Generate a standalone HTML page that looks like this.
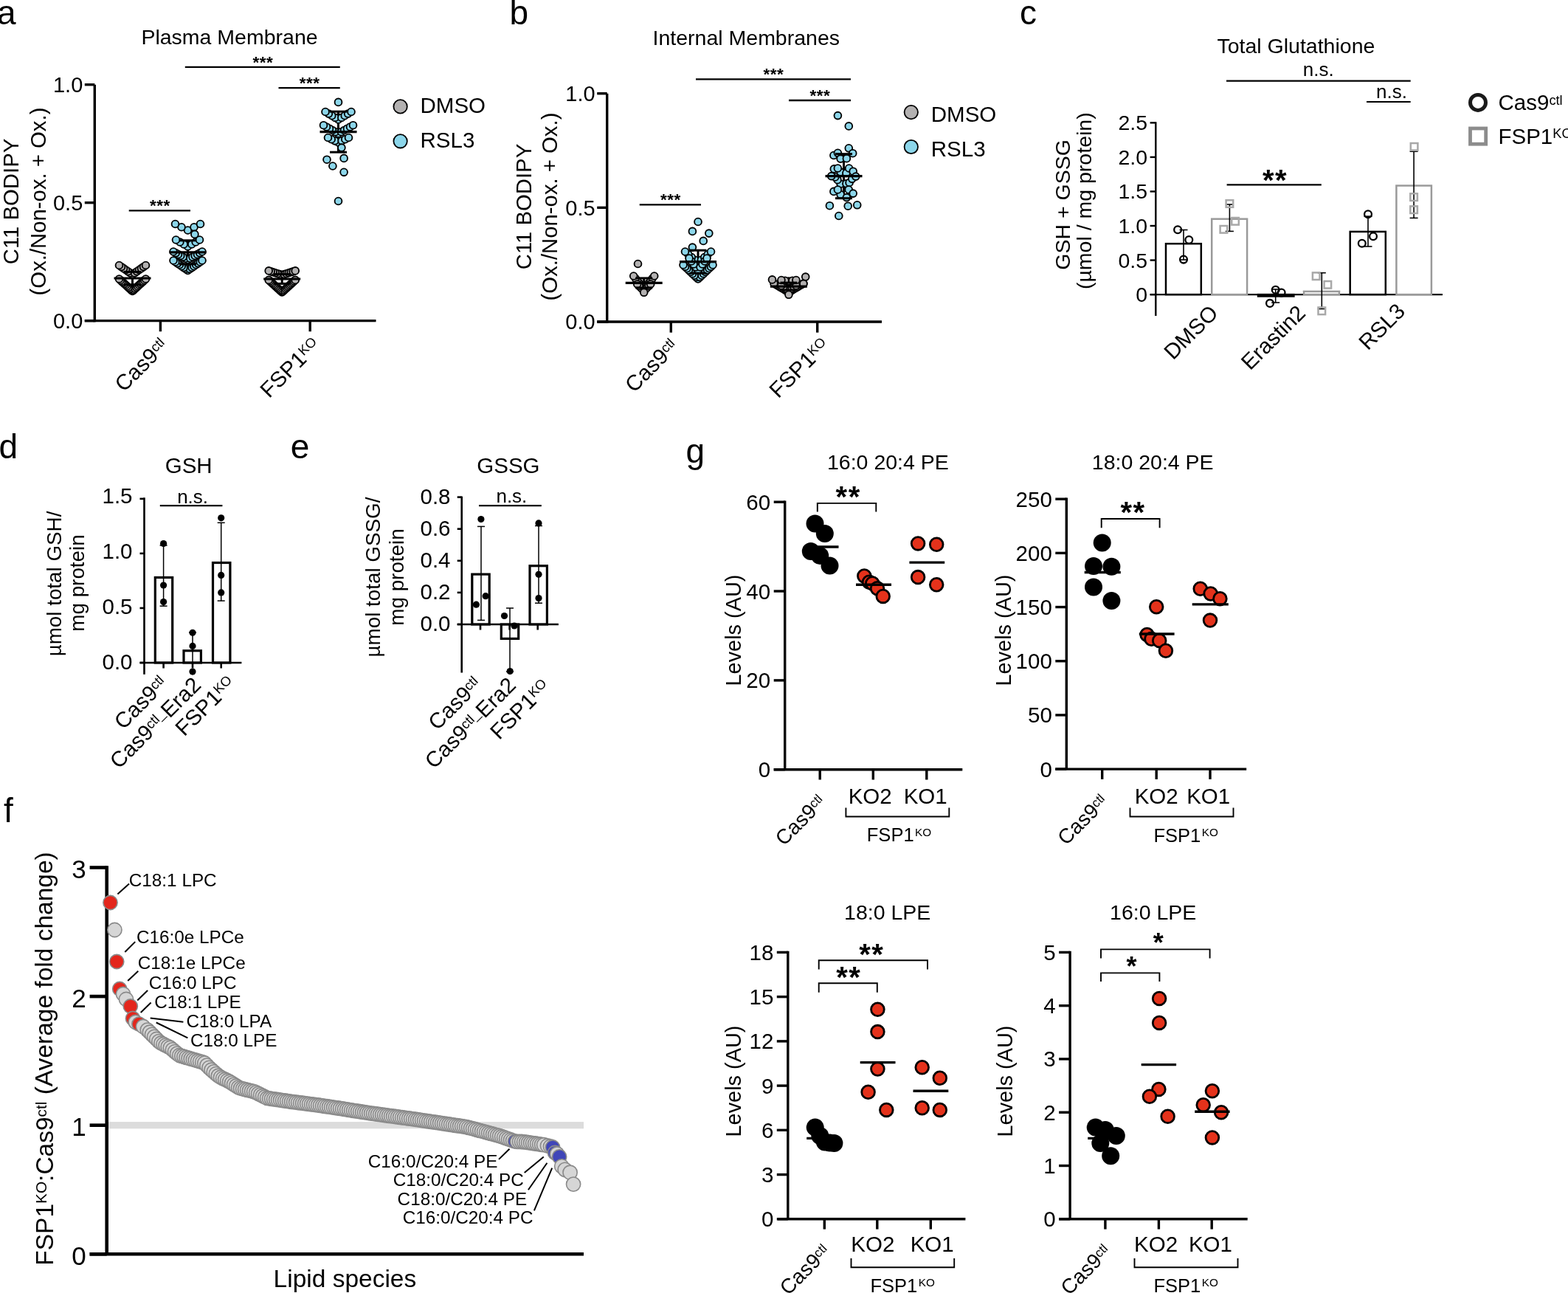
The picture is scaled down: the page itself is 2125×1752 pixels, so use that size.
<!DOCTYPE html>
<html><head><meta charset="utf-8"><title>Figure</title>
<style>html,body{margin:0;padding:0;background:#fff;} svg{display:block;} text{font-family:'Liberation Sans', Arial, Helvetica, sans-serif;}</style></head>
<body><svg width="2125" height="1752" viewBox="0 0 2125 1752">
<rect width="2125" height="1752" fill="#fff"/>
<text x="-4" y="32.8" font-size="46" text-anchor="start" fill="#000">a</text>
<line x1="128.3" y1="114.7" x2="128.3" y2="436.3" stroke="#000" stroke-width="3.4" stroke-linecap="butt"/>
<line x1="114.8" y1="434.6" x2="509.5" y2="434.6" stroke="#000" stroke-width="3.4" stroke-linecap="butt"/>
<line x1="114.8" y1="434.6" x2="128.3" y2="434.6" stroke="#000" stroke-width="3.4" stroke-linecap="butt"/>
<text x="112.3" y="444.8" font-size="29" text-anchor="end" fill="#000">0.0</text>
<line x1="114.8" y1="274.65" x2="128.3" y2="274.65" stroke="#000" stroke-width="3.4" stroke-linecap="butt"/>
<text x="112.3" y="284.85" font-size="29" text-anchor="end" fill="#000">0.5</text>
<line x1="114.8" y1="114.7" x2="128.3" y2="114.7" stroke="#000" stroke-width="3.4" stroke-linecap="butt"/>
<text x="112.3" y="124.9" font-size="29" text-anchor="end" fill="#000">1.0</text>
<line x1="217.4" y1="434.6" x2="217.4" y2="449.2" stroke="#000" stroke-width="3.4" stroke-linecap="butt"/>
<line x1="420.2" y1="434.6" x2="420.2" y2="449.2" stroke="#000" stroke-width="3.4" stroke-linecap="butt"/>
<text font-size="29.5" text-anchor="end" transform="translate(229.4 470.6) rotate(-45)">Cas9<tspan font-size="62%" dy="-0.42em">ctl</tspan></text>
<text font-size="29.5" text-anchor="end" transform="translate(435.7 469.6) rotate(-45)">FSP1<tspan font-size="62%" dy="-0.42em">KO</tspan></text>
<text x="25" y="273" font-size="29.3" text-anchor="middle" fill="#000" transform="rotate(-90 25 273)">C11 BODIPY</text>
<text x="61.7" y="273" font-size="29.3" text-anchor="middle" fill="#000" transform="rotate(-90 61.7 273)">(Ox./Non-ox. + Ox.)</text>
<text x="311" y="60" font-size="28.5" text-anchor="middle" fill="#000">Plasma Membrane</text>
<line x1="179.5" y1="385.66" x2="179.5" y2="368.38" stroke="#000" stroke-width="3" stroke-linecap="butt"/>
<circle cx="179.5" cy="372" r="4.9" fill="#b3b1b1" stroke="#000" stroke-width="1.85"/>
<circle cx="176.5" cy="369.92" r="4.9" fill="#b3b1b1" stroke="#000" stroke-width="1.85"/>
<circle cx="182.5" cy="369.92" r="4.9" fill="#b3b1b1" stroke="#000" stroke-width="1.85"/>
<circle cx="173.5" cy="367.83" r="4.9" fill="#b3b1b1" stroke="#000" stroke-width="1.85"/>
<circle cx="185.5" cy="367.83" r="4.9" fill="#b3b1b1" stroke="#000" stroke-width="1.85"/>
<circle cx="170.5" cy="365.75" r="4.9" fill="#b3b1b1" stroke="#000" stroke-width="1.85"/>
<circle cx="188.5" cy="365.75" r="4.9" fill="#b3b1b1" stroke="#000" stroke-width="1.85"/>
<circle cx="167.5" cy="363.67" r="4.9" fill="#b3b1b1" stroke="#000" stroke-width="1.85"/>
<circle cx="191.5" cy="363.67" r="4.9" fill="#b3b1b1" stroke="#000" stroke-width="1.85"/>
<circle cx="164.5" cy="361.58" r="4.9" fill="#b3b1b1" stroke="#000" stroke-width="1.85"/>
<circle cx="194.5" cy="361.58" r="4.9" fill="#b3b1b1" stroke="#000" stroke-width="1.85"/>
<circle cx="161.5" cy="359.5" r="4.9" fill="#b3b1b1" stroke="#000" stroke-width="1.85"/>
<circle cx="197.5" cy="359.5" r="4.9" fill="#b3b1b1" stroke="#000" stroke-width="1.85"/>
<circle cx="179.5" cy="394.5" r="4.9" fill="#b3b1b1" stroke="#000" stroke-width="1.85"/>
<circle cx="177.7" cy="392.85" r="4.9" fill="#b3b1b1" stroke="#000" stroke-width="1.85"/>
<circle cx="181.3" cy="392.85" r="4.9" fill="#b3b1b1" stroke="#000" stroke-width="1.85"/>
<circle cx="175.9" cy="391.2" r="4.9" fill="#b3b1b1" stroke="#000" stroke-width="1.85"/>
<circle cx="183.1" cy="391.2" r="4.9" fill="#b3b1b1" stroke="#000" stroke-width="1.85"/>
<circle cx="174.1" cy="389.55" r="4.9" fill="#b3b1b1" stroke="#000" stroke-width="1.85"/>
<circle cx="184.9" cy="389.55" r="4.9" fill="#b3b1b1" stroke="#000" stroke-width="1.85"/>
<circle cx="172.3" cy="387.9" r="4.9" fill="#b3b1b1" stroke="#000" stroke-width="1.85"/>
<circle cx="186.7" cy="387.9" r="4.9" fill="#b3b1b1" stroke="#000" stroke-width="1.85"/>
<circle cx="170.5" cy="386.25" r="4.9" fill="#b3b1b1" stroke="#000" stroke-width="1.85"/>
<circle cx="188.5" cy="386.25" r="4.9" fill="#b3b1b1" stroke="#000" stroke-width="1.85"/>
<circle cx="168.7" cy="384.6" r="4.9" fill="#b3b1b1" stroke="#000" stroke-width="1.85"/>
<circle cx="190.3" cy="384.6" r="4.9" fill="#b3b1b1" stroke="#000" stroke-width="1.85"/>
<circle cx="166.9" cy="382.95" r="4.9" fill="#b3b1b1" stroke="#000" stroke-width="1.85"/>
<circle cx="192.1" cy="382.95" r="4.9" fill="#b3b1b1" stroke="#000" stroke-width="1.85"/>
<circle cx="165.1" cy="381.3" r="4.9" fill="#b3b1b1" stroke="#000" stroke-width="1.85"/>
<circle cx="193.9" cy="381.3" r="4.9" fill="#b3b1b1" stroke="#000" stroke-width="1.85"/>
<circle cx="163.3" cy="379.65" r="4.9" fill="#b3b1b1" stroke="#000" stroke-width="1.85"/>
<circle cx="195.7" cy="379.65" r="4.9" fill="#b3b1b1" stroke="#000" stroke-width="1.85"/>
<circle cx="161.5" cy="378" r="4.9" fill="#b3b1b1" stroke="#000" stroke-width="1.85"/>
<circle cx="197.5" cy="378" r="4.9" fill="#b3b1b1" stroke="#000" stroke-width="1.85"/>
<line x1="154.5" y1="377.02" x2="204.5" y2="377.02" stroke="#000" stroke-width="3.2" stroke-linecap="butt"/>
<line x1="168" y1="368.38" x2="191" y2="368.38" stroke="#000" stroke-width="3" stroke-linecap="butt"/>
<line x1="168" y1="385.66" x2="191" y2="385.66" stroke="#000" stroke-width="3" stroke-linecap="butt"/>
<line x1="254.5" y1="357.82" x2="254.5" y2="325.83" stroke="#000" stroke-width="3" stroke-linecap="butt"/>
<circle cx="254.5" cy="366.4" r="4.9" fill="#8cd6ea" stroke="#000" stroke-width="1.85"/>
<circle cx="251.71" cy="364.49" r="4.9" fill="#8cd6ea" stroke="#000" stroke-width="1.85"/>
<circle cx="257.29" cy="364.49" r="4.9" fill="#8cd6ea" stroke="#000" stroke-width="1.85"/>
<circle cx="248.93" cy="362.57" r="4.9" fill="#8cd6ea" stroke="#000" stroke-width="1.85"/>
<circle cx="260.07" cy="362.57" r="4.9" fill="#8cd6ea" stroke="#000" stroke-width="1.85"/>
<circle cx="246.14" cy="360.66" r="4.9" fill="#8cd6ea" stroke="#000" stroke-width="1.85"/>
<circle cx="262.86" cy="360.66" r="4.9" fill="#8cd6ea" stroke="#000" stroke-width="1.85"/>
<circle cx="243.36" cy="358.74" r="4.9" fill="#8cd6ea" stroke="#000" stroke-width="1.85"/>
<circle cx="265.64" cy="358.74" r="4.9" fill="#8cd6ea" stroke="#000" stroke-width="1.85"/>
<circle cx="240.57" cy="356.83" r="4.9" fill="#8cd6ea" stroke="#000" stroke-width="1.85"/>
<circle cx="268.43" cy="356.83" r="4.9" fill="#8cd6ea" stroke="#000" stroke-width="1.85"/>
<circle cx="237.79" cy="354.91" r="4.9" fill="#8cd6ea" stroke="#000" stroke-width="1.85"/>
<circle cx="271.21" cy="354.91" r="4.9" fill="#8cd6ea" stroke="#000" stroke-width="1.85"/>
<circle cx="235" cy="353" r="4.9" fill="#8cd6ea" stroke="#000" stroke-width="1.85"/>
<circle cx="274" cy="353" r="4.9" fill="#8cd6ea" stroke="#000" stroke-width="1.85"/>
<circle cx="254.5" cy="352" r="4.9" fill="#8cd6ea" stroke="#000" stroke-width="1.85"/>
<circle cx="251.25" cy="350.17" r="4.9" fill="#8cd6ea" stroke="#000" stroke-width="1.85"/>
<circle cx="257.75" cy="350.17" r="4.9" fill="#8cd6ea" stroke="#000" stroke-width="1.85"/>
<circle cx="248" cy="348.33" r="4.9" fill="#8cd6ea" stroke="#000" stroke-width="1.85"/>
<circle cx="261" cy="348.33" r="4.9" fill="#8cd6ea" stroke="#000" stroke-width="1.85"/>
<circle cx="244.75" cy="346.5" r="4.9" fill="#8cd6ea" stroke="#000" stroke-width="1.85"/>
<circle cx="264.25" cy="346.5" r="4.9" fill="#8cd6ea" stroke="#000" stroke-width="1.85"/>
<circle cx="241.5" cy="344.67" r="4.9" fill="#8cd6ea" stroke="#000" stroke-width="1.85"/>
<circle cx="267.5" cy="344.67" r="4.9" fill="#8cd6ea" stroke="#000" stroke-width="1.85"/>
<circle cx="238.25" cy="342.83" r="4.9" fill="#8cd6ea" stroke="#000" stroke-width="1.85"/>
<circle cx="270.75" cy="342.83" r="4.9" fill="#8cd6ea" stroke="#000" stroke-width="1.85"/>
<circle cx="235" cy="341" r="4.9" fill="#8cd6ea" stroke="#000" stroke-width="1.85"/>
<circle cx="274" cy="341" r="4.9" fill="#8cd6ea" stroke="#000" stroke-width="1.85"/>
<circle cx="254.5" cy="334" r="4.9" fill="#8cd6ea" stroke="#000" stroke-width="1.85"/>
<circle cx="249.17" cy="331" r="4.9" fill="#8cd6ea" stroke="#000" stroke-width="1.85"/>
<circle cx="259.83" cy="331" r="4.9" fill="#8cd6ea" stroke="#000" stroke-width="1.85"/>
<circle cx="243.83" cy="328" r="4.9" fill="#8cd6ea" stroke="#000" stroke-width="1.85"/>
<circle cx="265.17" cy="328" r="4.9" fill="#8cd6ea" stroke="#000" stroke-width="1.85"/>
<circle cx="238.5" cy="325" r="4.9" fill="#8cd6ea" stroke="#000" stroke-width="1.85"/>
<circle cx="270.5" cy="325" r="4.9" fill="#8cd6ea" stroke="#000" stroke-width="1.85"/>
<circle cx="254.5" cy="312" r="4.9" fill="#8cd6ea" stroke="#000" stroke-width="1.85"/>
<circle cx="246" cy="307.75" r="4.9" fill="#8cd6ea" stroke="#000" stroke-width="1.85"/>
<circle cx="263" cy="307.75" r="4.9" fill="#8cd6ea" stroke="#000" stroke-width="1.85"/>
<circle cx="237.5" cy="303.5" r="4.9" fill="#8cd6ea" stroke="#000" stroke-width="1.85"/>
<circle cx="271.5" cy="303.5" r="4.9" fill="#8cd6ea" stroke="#000" stroke-width="1.85"/>
<circle cx="263.9" cy="317.4" r="4.9" fill="#8cd6ea" stroke="#000" stroke-width="1.85"/>
<line x1="229.5" y1="341.83" x2="279.5" y2="341.83" stroke="#000" stroke-width="3.2" stroke-linecap="butt"/>
<line x1="243" y1="325.83" x2="266" y2="325.83" stroke="#000" stroke-width="3" stroke-linecap="butt"/>
<line x1="243" y1="357.82" x2="266" y2="357.82" stroke="#000" stroke-width="3" stroke-linecap="butt"/>
<line x1="382.2" y1="384.38" x2="382.2" y2="371.58" stroke="#000" stroke-width="3" stroke-linecap="butt"/>
<circle cx="382.2" cy="396" r="4.9" fill="#b3b1b1" stroke="#000" stroke-width="1.85"/>
<circle cx="380.56" cy="394.49" r="4.9" fill="#b3b1b1" stroke="#000" stroke-width="1.85"/>
<circle cx="383.84" cy="394.49" r="4.9" fill="#b3b1b1" stroke="#000" stroke-width="1.85"/>
<circle cx="378.93" cy="392.98" r="4.9" fill="#b3b1b1" stroke="#000" stroke-width="1.85"/>
<circle cx="385.47" cy="392.98" r="4.9" fill="#b3b1b1" stroke="#000" stroke-width="1.85"/>
<circle cx="377.29" cy="391.47" r="4.9" fill="#b3b1b1" stroke="#000" stroke-width="1.85"/>
<circle cx="387.11" cy="391.47" r="4.9" fill="#b3b1b1" stroke="#000" stroke-width="1.85"/>
<circle cx="375.65" cy="389.96" r="4.9" fill="#b3b1b1" stroke="#000" stroke-width="1.85"/>
<circle cx="388.75" cy="389.96" r="4.9" fill="#b3b1b1" stroke="#000" stroke-width="1.85"/>
<circle cx="374.02" cy="388.45" r="4.9" fill="#b3b1b1" stroke="#000" stroke-width="1.85"/>
<circle cx="390.38" cy="388.45" r="4.9" fill="#b3b1b1" stroke="#000" stroke-width="1.85"/>
<circle cx="372.38" cy="386.95" r="4.9" fill="#b3b1b1" stroke="#000" stroke-width="1.85"/>
<circle cx="392.02" cy="386.95" r="4.9" fill="#b3b1b1" stroke="#000" stroke-width="1.85"/>
<circle cx="370.75" cy="385.44" r="4.9" fill="#b3b1b1" stroke="#000" stroke-width="1.85"/>
<circle cx="393.65" cy="385.44" r="4.9" fill="#b3b1b1" stroke="#000" stroke-width="1.85"/>
<circle cx="369.11" cy="383.93" r="4.9" fill="#b3b1b1" stroke="#000" stroke-width="1.85"/>
<circle cx="395.29" cy="383.93" r="4.9" fill="#b3b1b1" stroke="#000" stroke-width="1.85"/>
<circle cx="367.47" cy="382.42" r="4.9" fill="#b3b1b1" stroke="#000" stroke-width="1.85"/>
<circle cx="396.93" cy="382.42" r="4.9" fill="#b3b1b1" stroke="#000" stroke-width="1.85"/>
<circle cx="365.84" cy="380.91" r="4.9" fill="#b3b1b1" stroke="#000" stroke-width="1.85"/>
<circle cx="398.56" cy="380.91" r="4.9" fill="#b3b1b1" stroke="#000" stroke-width="1.85"/>
<circle cx="364.2" cy="379.4" r="4.9" fill="#b3b1b1" stroke="#000" stroke-width="1.85"/>
<circle cx="400.2" cy="379.4" r="4.9" fill="#b3b1b1" stroke="#000" stroke-width="1.85"/>
<circle cx="382.2" cy="372.6" r="4.9" fill="#b3b1b1" stroke="#000" stroke-width="1.85"/>
<circle cx="379.2" cy="371.65" r="4.9" fill="#b3b1b1" stroke="#000" stroke-width="1.85"/>
<circle cx="385.2" cy="371.65" r="4.9" fill="#b3b1b1" stroke="#000" stroke-width="1.85"/>
<circle cx="376.2" cy="370.7" r="4.9" fill="#b3b1b1" stroke="#000" stroke-width="1.85"/>
<circle cx="388.2" cy="370.7" r="4.9" fill="#b3b1b1" stroke="#000" stroke-width="1.85"/>
<circle cx="373.2" cy="369.75" r="4.9" fill="#b3b1b1" stroke="#000" stroke-width="1.85"/>
<circle cx="391.2" cy="369.75" r="4.9" fill="#b3b1b1" stroke="#000" stroke-width="1.85"/>
<circle cx="370.2" cy="368.8" r="4.9" fill="#b3b1b1" stroke="#000" stroke-width="1.85"/>
<circle cx="394.2" cy="368.8" r="4.9" fill="#b3b1b1" stroke="#000" stroke-width="1.85"/>
<circle cx="367.2" cy="367.85" r="4.9" fill="#b3b1b1" stroke="#000" stroke-width="1.85"/>
<circle cx="397.2" cy="367.85" r="4.9" fill="#b3b1b1" stroke="#000" stroke-width="1.85"/>
<circle cx="364.2" cy="366.9" r="4.9" fill="#b3b1b1" stroke="#000" stroke-width="1.85"/>
<circle cx="400.2" cy="366.9" r="4.9" fill="#b3b1b1" stroke="#000" stroke-width="1.85"/>
<line x1="357.2" y1="377.98" x2="407.2" y2="377.98" stroke="#000" stroke-width="3.2" stroke-linecap="butt"/>
<line x1="370.7" y1="371.58" x2="393.7" y2="371.58" stroke="#000" stroke-width="3" stroke-linecap="butt"/>
<line x1="370.7" y1="384.38" x2="393.7" y2="384.38" stroke="#000" stroke-width="3" stroke-linecap="butt"/>
<line x1="458.5" y1="206.19" x2="458.5" y2="151.17" stroke="#000" stroke-width="3" stroke-linecap="butt"/>
<circle cx="458.5" cy="138.4" r="4.9" fill="#8cd6ea" stroke="#000" stroke-width="1.85"/>
<circle cx="458.5" cy="162" r="4.9" fill="#8cd6ea" stroke="#000" stroke-width="1.85"/>
<circle cx="454.12" cy="159.38" r="4.9" fill="#8cd6ea" stroke="#000" stroke-width="1.85"/>
<circle cx="462.88" cy="159.38" r="4.9" fill="#8cd6ea" stroke="#000" stroke-width="1.85"/>
<circle cx="449.75" cy="156.75" r="4.9" fill="#8cd6ea" stroke="#000" stroke-width="1.85"/>
<circle cx="467.25" cy="156.75" r="4.9" fill="#8cd6ea" stroke="#000" stroke-width="1.85"/>
<circle cx="445.38" cy="154.12" r="4.9" fill="#8cd6ea" stroke="#000" stroke-width="1.85"/>
<circle cx="471.62" cy="154.12" r="4.9" fill="#8cd6ea" stroke="#000" stroke-width="1.85"/>
<circle cx="441" cy="151.5" r="4.9" fill="#8cd6ea" stroke="#000" stroke-width="1.85"/>
<circle cx="476" cy="151.5" r="4.9" fill="#8cd6ea" stroke="#000" stroke-width="1.85"/>
<circle cx="458.5" cy="181" r="4.9" fill="#8cd6ea" stroke="#000" stroke-width="1.85"/>
<circle cx="454.5" cy="178.74" r="4.9" fill="#8cd6ea" stroke="#000" stroke-width="1.85"/>
<circle cx="462.5" cy="178.74" r="4.9" fill="#8cd6ea" stroke="#000" stroke-width="1.85"/>
<circle cx="450.5" cy="176.48" r="4.9" fill="#8cd6ea" stroke="#000" stroke-width="1.85"/>
<circle cx="466.5" cy="176.48" r="4.9" fill="#8cd6ea" stroke="#000" stroke-width="1.85"/>
<circle cx="446.5" cy="174.22" r="4.9" fill="#8cd6ea" stroke="#000" stroke-width="1.85"/>
<circle cx="470.5" cy="174.22" r="4.9" fill="#8cd6ea" stroke="#000" stroke-width="1.85"/>
<circle cx="442.5" cy="171.96" r="4.9" fill="#8cd6ea" stroke="#000" stroke-width="1.85"/>
<circle cx="474.5" cy="171.96" r="4.9" fill="#8cd6ea" stroke="#000" stroke-width="1.85"/>
<circle cx="438.5" cy="169.7" r="4.9" fill="#8cd6ea" stroke="#000" stroke-width="1.85"/>
<circle cx="478.5" cy="169.7" r="4.9" fill="#8cd6ea" stroke="#000" stroke-width="1.85"/>
<circle cx="458.5" cy="193" r="4.9" fill="#8cd6ea" stroke="#000" stroke-width="1.85"/>
<circle cx="453.83" cy="190.83" r="4.9" fill="#8cd6ea" stroke="#000" stroke-width="1.85"/>
<circle cx="463.17" cy="190.83" r="4.9" fill="#8cd6ea" stroke="#000" stroke-width="1.85"/>
<circle cx="449.17" cy="188.67" r="4.9" fill="#8cd6ea" stroke="#000" stroke-width="1.85"/>
<circle cx="467.83" cy="188.67" r="4.9" fill="#8cd6ea" stroke="#000" stroke-width="1.85"/>
<circle cx="444.5" cy="186.5" r="4.9" fill="#8cd6ea" stroke="#000" stroke-width="1.85"/>
<circle cx="472.5" cy="186.5" r="4.9" fill="#8cd6ea" stroke="#000" stroke-width="1.85"/>
<circle cx="462.9" cy="200.1" r="4.9" fill="#8cd6ea" stroke="#000" stroke-width="1.85"/>
<circle cx="443" cy="216.2" r="4.9" fill="#8cd6ea" stroke="#000" stroke-width="1.85"/>
<circle cx="466.1" cy="214.4" r="4.9" fill="#8cd6ea" stroke="#000" stroke-width="1.85"/>
<circle cx="450.9" cy="225" r="4.9" fill="#8cd6ea" stroke="#000" stroke-width="1.85"/>
<circle cx="466.1" cy="233.3" r="4.9" fill="#8cd6ea" stroke="#000" stroke-width="1.85"/>
<circle cx="458.5" cy="272.5" r="4.9" fill="#8cd6ea" stroke="#000" stroke-width="1.85"/>
<line x1="433.5" y1="178.68" x2="483.5" y2="178.68" stroke="#000" stroke-width="3.2" stroke-linecap="butt"/>
<line x1="447" y1="151.17" x2="470" y2="151.17" stroke="#000" stroke-width="3" stroke-linecap="butt"/>
<line x1="447" y1="206.19" x2="470" y2="206.19" stroke="#000" stroke-width="3" stroke-linecap="butt"/>
<line x1="174.7" y1="285.3" x2="258" y2="285.3" stroke="#000" stroke-width="2.3" stroke-linecap="butt"/>
<text x="216.85" y="286.3" font-size="22.5" text-anchor="middle" fill="#000" font-weight="bold" letter-spacing="0.5">***</text>
<line x1="250.8" y1="90.8" x2="460.8" y2="90.8" stroke="#000" stroke-width="2.3" stroke-linecap="butt"/>
<text x="356.3" y="91.8" font-size="22.5" text-anchor="middle" fill="#000" font-weight="bold" letter-spacing="0.5">***</text>
<line x1="377.5" y1="119.2" x2="460.8" y2="119.2" stroke="#000" stroke-width="2.3" stroke-linecap="butt"/>
<text x="419.65" y="120.2" font-size="22.5" text-anchor="middle" fill="#000" font-weight="bold" letter-spacing="0.5">***</text>
<circle cx="542.6" cy="144.4" r="9.2" fill="#b3b1b1" stroke="#000" stroke-width="1.8"/>
<circle cx="542.6" cy="191.3" r="9.2" fill="#8cd6ea" stroke="#000" stroke-width="1.8"/>
<text x="569.5" y="152.7" font-size="29.5" text-anchor="start" fill="#000">DMSO</text>
<text x="569.5" y="199.5" font-size="29.5" text-anchor="start" fill="#000">RSL3</text>
<text x="690.5" y="32.8" font-size="46" text-anchor="start" fill="#000">b</text>
<line x1="822.7" y1="126.7" x2="822.7" y2="437.7" stroke="#000" stroke-width="3.4" stroke-linecap="butt"/>
<line x1="809.2" y1="436" x2="1195" y2="436" stroke="#000" stroke-width="3.4" stroke-linecap="butt"/>
<line x1="809.2" y1="436" x2="822.7" y2="436" stroke="#000" stroke-width="3.4" stroke-linecap="butt"/>
<text x="806.7" y="446.2" font-size="29" text-anchor="end" fill="#000">0.0</text>
<line x1="809.2" y1="281.35" x2="822.7" y2="281.35" stroke="#000" stroke-width="3.4" stroke-linecap="butt"/>
<text x="806.7" y="291.55" font-size="29" text-anchor="end" fill="#000">0.5</text>
<line x1="809.2" y1="126.7" x2="822.7" y2="126.7" stroke="#000" stroke-width="3.4" stroke-linecap="butt"/>
<text x="806.7" y="136.9" font-size="29" text-anchor="end" fill="#000">1.0</text>
<line x1="909.3" y1="436" x2="909.3" y2="450.6" stroke="#000" stroke-width="3.4" stroke-linecap="butt"/>
<line x1="1107.7" y1="436" x2="1107.7" y2="450.6" stroke="#000" stroke-width="3.4" stroke-linecap="butt"/>
<text font-size="29.5" text-anchor="end" transform="translate(920.8 471.5) rotate(-45)">Cas9<tspan font-size="62%" dy="-0.42em">ctl</tspan></text>
<text font-size="29.5" text-anchor="end" transform="translate(1125.7 470) rotate(-45)">FSP1<tspan font-size="62%" dy="-0.42em">KO</tspan></text>
<text x="720" y="280" font-size="29.3" text-anchor="middle" fill="#000" transform="rotate(-90 720 280)">C11 BODIPY</text>
<text x="755" y="280" font-size="29.3" text-anchor="middle" fill="#000" transform="rotate(-90 755 280)">(Ox./Non-ox. + Ox.)</text>
<text x="1011.3" y="61" font-size="28.5" text-anchor="middle" fill="#000">Internal Membranes</text>
<line x1="872.7" y1="389.91" x2="872.7" y2="376.92" stroke="#000" stroke-width="3" stroke-linecap="butt"/>
<circle cx="864.5" cy="357.5" r="4.9" fill="#b3b1b1" stroke="#000" stroke-width="1.85"/>
<circle cx="871.43" cy="390.36" r="4.9" fill="#b3b1b1" stroke="#000" stroke-width="1.85"/>
<circle cx="873.97" cy="390.36" r="4.9" fill="#b3b1b1" stroke="#000" stroke-width="1.85"/>
<circle cx="868.88" cy="387.09" r="4.9" fill="#b3b1b1" stroke="#000" stroke-width="1.85"/>
<circle cx="876.52" cy="387.09" r="4.9" fill="#b3b1b1" stroke="#000" stroke-width="1.85"/>
<circle cx="866.34" cy="383.82" r="4.9" fill="#b3b1b1" stroke="#000" stroke-width="1.85"/>
<circle cx="879.06" cy="383.82" r="4.9" fill="#b3b1b1" stroke="#000" stroke-width="1.85"/>
<circle cx="863.79" cy="380.55" r="4.9" fill="#b3b1b1" stroke="#000" stroke-width="1.85"/>
<circle cx="881.61" cy="380.55" r="4.9" fill="#b3b1b1" stroke="#000" stroke-width="1.85"/>
<circle cx="861.25" cy="377.27" r="4.9" fill="#b3b1b1" stroke="#000" stroke-width="1.85"/>
<circle cx="884.15" cy="377.27" r="4.9" fill="#b3b1b1" stroke="#000" stroke-width="1.85"/>
<circle cx="858.7" cy="374" r="4.9" fill="#b3b1b1" stroke="#000" stroke-width="1.85"/>
<circle cx="886.7" cy="374" r="4.9" fill="#b3b1b1" stroke="#000" stroke-width="1.85"/>
<circle cx="871.41" cy="392.71" r="4.9" fill="#b3b1b1" stroke="#000" stroke-width="1.85"/>
<circle cx="873.99" cy="392.71" r="4.9" fill="#b3b1b1" stroke="#000" stroke-width="1.85"/>
<circle cx="868.84" cy="390.14" r="4.9" fill="#b3b1b1" stroke="#000" stroke-width="1.85"/>
<circle cx="876.56" cy="390.14" r="4.9" fill="#b3b1b1" stroke="#000" stroke-width="1.85"/>
<circle cx="866.27" cy="387.57" r="4.9" fill="#b3b1b1" stroke="#000" stroke-width="1.85"/>
<circle cx="879.13" cy="387.57" r="4.9" fill="#b3b1b1" stroke="#000" stroke-width="1.85"/>
<circle cx="863.7" cy="385" r="4.9" fill="#b3b1b1" stroke="#000" stroke-width="1.85"/>
<circle cx="881.7" cy="385" r="4.9" fill="#b3b1b1" stroke="#000" stroke-width="1.85"/>
<circle cx="872.7" cy="396.3" r="4.9" fill="#b3b1b1" stroke="#000" stroke-width="1.85"/>
<line x1="847.7" y1="383.42" x2="897.7" y2="383.42" stroke="#000" stroke-width="3.2" stroke-linecap="butt"/>
<line x1="861.2" y1="376.92" x2="884.2" y2="376.92" stroke="#000" stroke-width="3" stroke-linecap="butt"/>
<line x1="861.2" y1="389.91" x2="884.2" y2="389.91" stroke="#000" stroke-width="3" stroke-linecap="butt"/>
<line x1="946" y1="370.12" x2="946" y2="339.19" stroke="#000" stroke-width="3" stroke-linecap="butt"/>
<circle cx="946" cy="378" r="4.9" fill="#8cd6ea" stroke="#000" stroke-width="1.85"/>
<circle cx="943.5" cy="375.62" r="4.9" fill="#8cd6ea" stroke="#000" stroke-width="1.85"/>
<circle cx="948.5" cy="375.62" r="4.9" fill="#8cd6ea" stroke="#000" stroke-width="1.85"/>
<circle cx="941" cy="373.25" r="4.9" fill="#8cd6ea" stroke="#000" stroke-width="1.85"/>
<circle cx="951" cy="373.25" r="4.9" fill="#8cd6ea" stroke="#000" stroke-width="1.85"/>
<circle cx="938.5" cy="370.88" r="4.9" fill="#8cd6ea" stroke="#000" stroke-width="1.85"/>
<circle cx="953.5" cy="370.88" r="4.9" fill="#8cd6ea" stroke="#000" stroke-width="1.85"/>
<circle cx="936" cy="368.5" r="4.9" fill="#8cd6ea" stroke="#000" stroke-width="1.85"/>
<circle cx="956" cy="368.5" r="4.9" fill="#8cd6ea" stroke="#000" stroke-width="1.85"/>
<circle cx="933.5" cy="366.12" r="4.9" fill="#8cd6ea" stroke="#000" stroke-width="1.85"/>
<circle cx="958.5" cy="366.12" r="4.9" fill="#8cd6ea" stroke="#000" stroke-width="1.85"/>
<circle cx="931" cy="363.75" r="4.9" fill="#8cd6ea" stroke="#000" stroke-width="1.85"/>
<circle cx="961" cy="363.75" r="4.9" fill="#8cd6ea" stroke="#000" stroke-width="1.85"/>
<circle cx="928.5" cy="361.38" r="4.9" fill="#8cd6ea" stroke="#000" stroke-width="1.85"/>
<circle cx="963.5" cy="361.38" r="4.9" fill="#8cd6ea" stroke="#000" stroke-width="1.85"/>
<circle cx="926" cy="359" r="4.9" fill="#8cd6ea" stroke="#000" stroke-width="1.85"/>
<circle cx="966" cy="359" r="4.9" fill="#8cd6ea" stroke="#000" stroke-width="1.85"/>
<circle cx="946" cy="356" r="4.9" fill="#8cd6ea" stroke="#000" stroke-width="1.85"/>
<circle cx="941.62" cy="352.25" r="4.9" fill="#8cd6ea" stroke="#000" stroke-width="1.85"/>
<circle cx="950.38" cy="352.25" r="4.9" fill="#8cd6ea" stroke="#000" stroke-width="1.85"/>
<circle cx="937.25" cy="348.5" r="4.9" fill="#8cd6ea" stroke="#000" stroke-width="1.85"/>
<circle cx="954.75" cy="348.5" r="4.9" fill="#8cd6ea" stroke="#000" stroke-width="1.85"/>
<circle cx="932.88" cy="344.75" r="4.9" fill="#8cd6ea" stroke="#000" stroke-width="1.85"/>
<circle cx="959.12" cy="344.75" r="4.9" fill="#8cd6ea" stroke="#000" stroke-width="1.85"/>
<circle cx="928.5" cy="341" r="4.9" fill="#8cd6ea" stroke="#000" stroke-width="1.85"/>
<circle cx="963.5" cy="341" r="4.9" fill="#8cd6ea" stroke="#000" stroke-width="1.85"/>
<circle cx="946" cy="366" r="4.9" fill="#8cd6ea" stroke="#000" stroke-width="1.85"/>
<circle cx="943" cy="362" r="4.9" fill="#8cd6ea" stroke="#000" stroke-width="1.85"/>
<circle cx="949" cy="362" r="4.9" fill="#8cd6ea" stroke="#000" stroke-width="1.85"/>
<circle cx="940" cy="358" r="4.9" fill="#8cd6ea" stroke="#000" stroke-width="1.85"/>
<circle cx="952" cy="358" r="4.9" fill="#8cd6ea" stroke="#000" stroke-width="1.85"/>
<circle cx="937" cy="354" r="4.9" fill="#8cd6ea" stroke="#000" stroke-width="1.85"/>
<circle cx="955" cy="354" r="4.9" fill="#8cd6ea" stroke="#000" stroke-width="1.85"/>
<circle cx="934" cy="350" r="4.9" fill="#8cd6ea" stroke="#000" stroke-width="1.85"/>
<circle cx="958" cy="350" r="4.9" fill="#8cd6ea" stroke="#000" stroke-width="1.85"/>
<circle cx="946" cy="300.5" r="4.9" fill="#8cd6ea" stroke="#000" stroke-width="1.85"/>
<circle cx="938.4" cy="313.4" r="4.9" fill="#8cd6ea" stroke="#000" stroke-width="1.85"/>
<circle cx="960.8" cy="316.1" r="4.9" fill="#8cd6ea" stroke="#000" stroke-width="1.85"/>
<circle cx="953.2" cy="326.4" r="4.9" fill="#8cd6ea" stroke="#000" stroke-width="1.85"/>
<circle cx="938.4" cy="335.1" r="4.9" fill="#8cd6ea" stroke="#000" stroke-width="1.85"/>
<line x1="921" y1="354.65" x2="971" y2="354.65" stroke="#000" stroke-width="3.2" stroke-linecap="butt"/>
<line x1="934.5" y1="339.19" x2="957.5" y2="339.19" stroke="#000" stroke-width="3" stroke-linecap="butt"/>
<line x1="934.5" y1="370.12" x2="957.5" y2="370.12" stroke="#000" stroke-width="3" stroke-linecap="butt"/>
<line x1="1068.9" y1="393.01" x2="1068.9" y2="383.11" stroke="#000" stroke-width="3" stroke-linecap="butt"/>
<circle cx="1067.57" cy="395.2" r="4.9" fill="#b3b1b1" stroke="#000" stroke-width="1.85"/>
<circle cx="1070.23" cy="395.2" r="4.9" fill="#b3b1b1" stroke="#000" stroke-width="1.85"/>
<circle cx="1064.9" cy="393.6" r="4.9" fill="#b3b1b1" stroke="#000" stroke-width="1.85"/>
<circle cx="1072.9" cy="393.6" r="4.9" fill="#b3b1b1" stroke="#000" stroke-width="1.85"/>
<circle cx="1062.23" cy="392" r="4.9" fill="#b3b1b1" stroke="#000" stroke-width="1.85"/>
<circle cx="1075.57" cy="392" r="4.9" fill="#b3b1b1" stroke="#000" stroke-width="1.85"/>
<circle cx="1059.57" cy="390.4" r="4.9" fill="#b3b1b1" stroke="#000" stroke-width="1.85"/>
<circle cx="1078.23" cy="390.4" r="4.9" fill="#b3b1b1" stroke="#000" stroke-width="1.85"/>
<circle cx="1056.9" cy="388.8" r="4.9" fill="#b3b1b1" stroke="#000" stroke-width="1.85"/>
<circle cx="1080.9" cy="388.8" r="4.9" fill="#b3b1b1" stroke="#000" stroke-width="1.85"/>
<circle cx="1054.23" cy="387.2" r="4.9" fill="#b3b1b1" stroke="#000" stroke-width="1.85"/>
<circle cx="1083.57" cy="387.2" r="4.9" fill="#b3b1b1" stroke="#000" stroke-width="1.85"/>
<circle cx="1051.57" cy="385.6" r="4.9" fill="#b3b1b1" stroke="#000" stroke-width="1.85"/>
<circle cx="1086.23" cy="385.6" r="4.9" fill="#b3b1b1" stroke="#000" stroke-width="1.85"/>
<circle cx="1048.9" cy="384" r="4.9" fill="#b3b1b1" stroke="#000" stroke-width="1.85"/>
<circle cx="1088.9" cy="384" r="4.9" fill="#b3b1b1" stroke="#000" stroke-width="1.85"/>
<circle cx="1067.47" cy="393" r="4.9" fill="#b3b1b1" stroke="#000" stroke-width="1.85"/>
<circle cx="1070.33" cy="393" r="4.9" fill="#b3b1b1" stroke="#000" stroke-width="1.85"/>
<circle cx="1064.61" cy="391" r="4.9" fill="#b3b1b1" stroke="#000" stroke-width="1.85"/>
<circle cx="1073.19" cy="391" r="4.9" fill="#b3b1b1" stroke="#000" stroke-width="1.85"/>
<circle cx="1061.76" cy="389" r="4.9" fill="#b3b1b1" stroke="#000" stroke-width="1.85"/>
<circle cx="1076.04" cy="389" r="4.9" fill="#b3b1b1" stroke="#000" stroke-width="1.85"/>
<circle cx="1058.9" cy="387" r="4.9" fill="#b3b1b1" stroke="#000" stroke-width="1.85"/>
<circle cx="1078.9" cy="387" r="4.9" fill="#b3b1b1" stroke="#000" stroke-width="1.85"/>
<circle cx="1068.9" cy="399.3" r="4.9" fill="#b3b1b1" stroke="#000" stroke-width="1.85"/>
<circle cx="1068.9" cy="381" r="4.9" fill="#b3b1b1" stroke="#000" stroke-width="1.85"/>
<circle cx="1063.9" cy="380.25" r="4.9" fill="#b3b1b1" stroke="#000" stroke-width="1.85"/>
<circle cx="1073.9" cy="380.25" r="4.9" fill="#b3b1b1" stroke="#000" stroke-width="1.85"/>
<circle cx="1058.9" cy="379.5" r="4.9" fill="#b3b1b1" stroke="#000" stroke-width="1.85"/>
<circle cx="1078.9" cy="379.5" r="4.9" fill="#b3b1b1" stroke="#000" stroke-width="1.85"/>
<circle cx="1046.5" cy="378.9" r="4.9" fill="#b3b1b1" stroke="#000" stroke-width="1.85"/>
<circle cx="1091.7" cy="375.1" r="4.9" fill="#b3b1b1" stroke="#000" stroke-width="1.85"/>
<circle cx="1088.9" cy="384.4" r="4.9" fill="#b3b1b1" stroke="#000" stroke-width="1.85"/>
<line x1="1043.9" y1="388.06" x2="1093.9" y2="388.06" stroke="#000" stroke-width="3.2" stroke-linecap="butt"/>
<line x1="1057.4" y1="383.11" x2="1080.4" y2="383.11" stroke="#000" stroke-width="3" stroke-linecap="butt"/>
<line x1="1057.4" y1="393.01" x2="1080.4" y2="393.01" stroke="#000" stroke-width="3" stroke-linecap="butt"/>
<line x1="1143.5" y1="268.67" x2="1143.5" y2="208.66" stroke="#000" stroke-width="3" stroke-linecap="butt"/>
<circle cx="1135.4" cy="156.6" r="4.9" fill="#8cd6ea" stroke="#000" stroke-width="1.85"/>
<circle cx="1150.3" cy="170.9" r="4.9" fill="#8cd6ea" stroke="#000" stroke-width="1.85"/>
<circle cx="1150.3" cy="200.8" r="4.9" fill="#8cd6ea" stroke="#000" stroke-width="1.85"/>
<circle cx="1155.7" cy="207.7" r="4.9" fill="#8cd6ea" stroke="#000" stroke-width="1.85"/>
<circle cx="1129.9" cy="210.5" r="4.9" fill="#8cd6ea" stroke="#000" stroke-width="1.85"/>
<circle cx="1135.4" cy="207.3" r="4.9" fill="#8cd6ea" stroke="#000" stroke-width="1.85"/>
<circle cx="1139.1" cy="215.1" r="4.9" fill="#8cd6ea" stroke="#000" stroke-width="1.85"/>
<circle cx="1147.4" cy="214.7" r="4.9" fill="#8cd6ea" stroke="#000" stroke-width="1.85"/>
<circle cx="1139.1" cy="233.1" r="4.9" fill="#8cd6ea" stroke="#000" stroke-width="1.85"/>
<circle cx="1146.9" cy="234.5" r="4.9" fill="#8cd6ea" stroke="#000" stroke-width="1.85"/>
<circle cx="1130.3" cy="228.9" r="4.9" fill="#8cd6ea" stroke="#000" stroke-width="1.85"/>
<circle cx="1135.4" cy="228" r="4.9" fill="#8cd6ea" stroke="#000" stroke-width="1.85"/>
<circle cx="1150.6" cy="228" r="4.9" fill="#8cd6ea" stroke="#000" stroke-width="1.85"/>
<circle cx="1156.2" cy="232.2" r="4.9" fill="#8cd6ea" stroke="#000" stroke-width="1.85"/>
<circle cx="1139.1" cy="249.2" r="4.9" fill="#8cd6ea" stroke="#000" stroke-width="1.85"/>
<circle cx="1146.9" cy="248.8" r="4.9" fill="#8cd6ea" stroke="#000" stroke-width="1.85"/>
<circle cx="1135" cy="243.7" r="4.9" fill="#8cd6ea" stroke="#000" stroke-width="1.85"/>
<circle cx="1151.1" cy="247.4" r="4.9" fill="#8cd6ea" stroke="#000" stroke-width="1.85"/>
<circle cx="1131.7" cy="240" r="4.9" fill="#8cd6ea" stroke="#000" stroke-width="1.85"/>
<circle cx="1154.8" cy="242.3" r="4.9" fill="#8cd6ea" stroke="#000" stroke-width="1.85"/>
<circle cx="1126.7" cy="238.6" r="4.9" fill="#8cd6ea" stroke="#000" stroke-width="1.85"/>
<circle cx="1159.8" cy="239.1" r="4.9" fill="#8cd6ea" stroke="#000" stroke-width="1.85"/>
<circle cx="1139.1" cy="263.5" r="4.9" fill="#8cd6ea" stroke="#000" stroke-width="1.85"/>
<circle cx="1147.4" cy="267.6" r="4.9" fill="#8cd6ea" stroke="#000" stroke-width="1.85"/>
<circle cx="1129.9" cy="259.4" r="4.9" fill="#8cd6ea" stroke="#000" stroke-width="1.85"/>
<circle cx="1135.4" cy="257" r="4.9" fill="#8cd6ea" stroke="#000" stroke-width="1.85"/>
<circle cx="1150.2" cy="257" r="4.9" fill="#8cd6ea" stroke="#000" stroke-width="1.85"/>
<circle cx="1156.2" cy="262.1" r="4.9" fill="#8cd6ea" stroke="#000" stroke-width="1.85"/>
<circle cx="1124.4" cy="278.7" r="4.9" fill="#8cd6ea" stroke="#000" stroke-width="1.85"/>
<circle cx="1149.2" cy="279.2" r="4.9" fill="#8cd6ea" stroke="#000" stroke-width="1.85"/>
<circle cx="1161.7" cy="277.8" r="4.9" fill="#8cd6ea" stroke="#000" stroke-width="1.85"/>
<circle cx="1136.8" cy="292.5" r="4.9" fill="#8cd6ea" stroke="#000" stroke-width="1.85"/>
<line x1="1118.5" y1="238.67" x2="1168.5" y2="238.67" stroke="#000" stroke-width="3.2" stroke-linecap="butt"/>
<line x1="1132" y1="208.66" x2="1155" y2="208.66" stroke="#000" stroke-width="3" stroke-linecap="butt"/>
<line x1="1132" y1="268.67" x2="1155" y2="268.67" stroke="#000" stroke-width="3" stroke-linecap="butt"/>
<line x1="866.7" y1="277.3" x2="950" y2="277.3" stroke="#000" stroke-width="2.3" stroke-linecap="butt"/>
<text x="908.85" y="278.3" font-size="22.5" text-anchor="middle" fill="#000" font-weight="bold" letter-spacing="0.5">***</text>
<line x1="943" y1="107.3" x2="1153" y2="107.3" stroke="#000" stroke-width="2.3" stroke-linecap="butt"/>
<text x="1048.5" y="108.3" font-size="22.5" text-anchor="middle" fill="#000" font-weight="bold" letter-spacing="0.5">***</text>
<line x1="1069" y1="136" x2="1153" y2="136" stroke="#000" stroke-width="2.3" stroke-linecap="butt"/>
<text x="1111.5" y="137" font-size="22.5" text-anchor="middle" fill="#000" font-weight="bold" letter-spacing="0.5">***</text>
<circle cx="1234.8" cy="152.1" r="9.2" fill="#b3b1b1" stroke="#000" stroke-width="1.8"/>
<circle cx="1234.8" cy="199" r="9.2" fill="#8cd6ea" stroke="#000" stroke-width="1.8"/>
<text x="1261.8" y="165.2" font-size="29.5" text-anchor="start" fill="#000">DMSO</text>
<text x="1261.8" y="211.8" font-size="29.5" text-anchor="start" fill="#000">RSL3</text>
<text x="1382" y="32.8" font-size="46" text-anchor="start" fill="#000">c</text>
<text x="1756.4" y="71.8" font-size="28.5" text-anchor="middle" fill="#000">Total Glutathione</text>
<line x1="1566.3" y1="165.15" x2="1566.3" y2="428" stroke="#000" stroke-width="2.4" stroke-linecap="butt"/>
<line x1="1558.6" y1="399.1" x2="1955" y2="399.1" stroke="#000" stroke-width="2.4" stroke-linecap="butt"/>
<line x1="1558.6" y1="399.1" x2="1566.3" y2="399.1" stroke="#000" stroke-width="2.4" stroke-linecap="butt"/>
<text x="1555" y="409.1" font-size="28.5" text-anchor="end" fill="#000">0</text>
<line x1="1558.6" y1="352.55" x2="1566.3" y2="352.55" stroke="#000" stroke-width="2.4" stroke-linecap="butt"/>
<text x="1555" y="362.55" font-size="28.5" text-anchor="end" fill="#000">0.5</text>
<line x1="1558.6" y1="306" x2="1566.3" y2="306" stroke="#000" stroke-width="2.4" stroke-linecap="butt"/>
<text x="1555" y="316" font-size="28.5" text-anchor="end" fill="#000">1.0</text>
<line x1="1558.6" y1="259.45" x2="1566.3" y2="259.45" stroke="#000" stroke-width="2.4" stroke-linecap="butt"/>
<text x="1555" y="269.45" font-size="28.5" text-anchor="end" fill="#000">1.5</text>
<line x1="1558.6" y1="212.9" x2="1566.3" y2="212.9" stroke="#000" stroke-width="2.4" stroke-linecap="butt"/>
<text x="1555" y="222.9" font-size="28.5" text-anchor="end" fill="#000">2.0</text>
<line x1="1558.6" y1="166.35" x2="1566.3" y2="166.35" stroke="#000" stroke-width="2.4" stroke-linecap="butt"/>
<text x="1555" y="176.35" font-size="28.5" text-anchor="end" fill="#000">2.5</text>
<text x="1450.1" y="277.4" font-size="28.5" text-anchor="middle" fill="#000" transform="rotate(-90 1450.1 277.4)">GSH + GSSG</text>
<text x="1479.5" y="272.2" font-size="28.5" text-anchor="middle" fill="#000" transform="rotate(-90 1479.5 272.2)">(µmol / mg protein)</text>
<rect x="1580" y="330.21" width="47.8" height="68.89" fill="none" stroke="#000" stroke-width="2.5"/>
<rect x="1642.2" y="296.69" width="47.9" height="102.41" fill="none" stroke="#9a9a9a" stroke-width="2.5"/>
<rect x="1705" y="399.1" width="48.4" height="2.33" fill="none" stroke="#000" stroke-width="2.5"/>
<rect x="1767" y="394.91" width="48" height="4.19" fill="none" stroke="#9a9a9a" stroke-width="2.5"/>
<rect x="1829.7" y="313.91" width="48.1" height="85.19" fill="none" stroke="#000" stroke-width="2.5"/>
<rect x="1892.4" y="251.54" width="47.5" height="147.56" fill="none" stroke="#9a9a9a" stroke-width="2.5"/>
<line x1="1604" y1="311.5" x2="1604" y2="352" stroke="#000" stroke-width="1.6" stroke-linecap="butt"/>
<line x1="1598.5" y1="311.5" x2="1609.5" y2="311.5" stroke="#000" stroke-width="1.6" stroke-linecap="butt"/>
<line x1="1598.5" y1="352" x2="1609.5" y2="352" stroke="#000" stroke-width="1.6" stroke-linecap="butt"/>
<line x1="1666.4" y1="277" x2="1666.4" y2="313.4" stroke="#000" stroke-width="1.6" stroke-linecap="butt"/>
<line x1="1660.9" y1="277" x2="1671.9" y2="277" stroke="#000" stroke-width="1.6" stroke-linecap="butt"/>
<line x1="1660.9" y1="313.4" x2="1671.9" y2="313.4" stroke="#000" stroke-width="1.6" stroke-linecap="butt"/>
<line x1="1728.7" y1="392" x2="1728.7" y2="410" stroke="#000" stroke-width="1.6" stroke-linecap="butt"/>
<line x1="1723.2" y1="392" x2="1734.2" y2="392" stroke="#000" stroke-width="1.6" stroke-linecap="butt"/>
<line x1="1723.2" y1="410" x2="1734.2" y2="410" stroke="#000" stroke-width="1.6" stroke-linecap="butt"/>
<line x1="1791.3" y1="369.7" x2="1791.3" y2="418.5" stroke="#000" stroke-width="1.6" stroke-linecap="butt"/>
<line x1="1785.8" y1="369.7" x2="1796.8" y2="369.7" stroke="#000" stroke-width="1.6" stroke-linecap="butt"/>
<line x1="1785.8" y1="418.5" x2="1796.8" y2="418.5" stroke="#000" stroke-width="1.6" stroke-linecap="butt"/>
<line x1="1854" y1="293.1" x2="1854" y2="334" stroke="#000" stroke-width="1.6" stroke-linecap="butt"/>
<line x1="1848.5" y1="293.1" x2="1859.5" y2="293.1" stroke="#000" stroke-width="1.6" stroke-linecap="butt"/>
<line x1="1848.5" y1="334" x2="1859.5" y2="334" stroke="#000" stroke-width="1.6" stroke-linecap="butt"/>
<line x1="1916.1" y1="205.2" x2="1916.1" y2="295.4" stroke="#000" stroke-width="1.6" stroke-linecap="butt"/>
<line x1="1910.6" y1="205.2" x2="1921.6" y2="205.2" stroke="#000" stroke-width="1.6" stroke-linecap="butt"/>
<line x1="1910.6" y1="295.4" x2="1921.6" y2="295.4" stroke="#000" stroke-width="1.6" stroke-linecap="butt"/>
<circle cx="1596.1" cy="311.2" r="4.9" fill="none" stroke="#000" stroke-width="2.3"/>
<circle cx="1611.3" cy="325" r="4.9" fill="none" stroke="#000" stroke-width="2.3"/>
<circle cx="1604" cy="351.6" r="4.9" fill="none" stroke="#000" stroke-width="2.3"/>
<circle cx="1728.7" cy="392.8" r="4.9" fill="none" stroke="#000" stroke-width="2.3"/>
<circle cx="1736.6" cy="396.6" r="4.9" fill="none" stroke="#000" stroke-width="2.3"/>
<circle cx="1721" cy="410.9" r="4.9" fill="none" stroke="#000" stroke-width="2.3"/>
<circle cx="1854" cy="290.3" r="4.9" fill="none" stroke="#000" stroke-width="2.3"/>
<circle cx="1861" cy="320.3" r="4.9" fill="none" stroke="#000" stroke-width="2.3"/>
<circle cx="1845.8" cy="329.8" r="4.9" fill="none" stroke="#000" stroke-width="2.3"/>
<rect x="1661.6" y="271.2" width="9.6" height="9.6" fill="none" stroke="#a8a8a8" stroke-width="2.5"/>
<rect x="1669.2" y="295" width="9.6" height="9.6" fill="none" stroke="#a8a8a8" stroke-width="2.5"/>
<rect x="1653.6" y="306" width="9.6" height="9.6" fill="none" stroke="#a8a8a8" stroke-width="2.5"/>
<rect x="1778.9" y="369.4" width="9.6" height="9.6" fill="none" stroke="#a8a8a8" stroke-width="2.5"/>
<rect x="1794.5" y="381" width="9.6" height="9.6" fill="none" stroke="#a8a8a8" stroke-width="2.5"/>
<rect x="1786.5" y="416.5" width="9.6" height="9.6" fill="none" stroke="#a8a8a8" stroke-width="2.5"/>
<rect x="1911.3" y="262.3" width="9.6" height="9.6" fill="none" stroke="#a8a8a8" stroke-width="2.5"/>
<rect x="1911.3" y="279.4" width="9.6" height="9.6" fill="none" stroke="#a8a8a8" stroke-width="2.5"/>
<rect x="1911.8" y="194" width="9.6" height="9.6" fill="none" stroke="#a8a8a8" stroke-width="2.5"/>
<line x1="1662" y1="109.7" x2="1911.7" y2="109.7" stroke="#000" stroke-width="2.2" stroke-linecap="butt"/>
<text x="1786.8" y="102.6" font-size="26" text-anchor="middle" fill="#000">n.s.</text>
<line x1="1852" y1="138" x2="1911.7" y2="138" stroke="#000" stroke-width="2.2" stroke-linecap="butt"/>
<text x="1886" y="132.6" font-size="26" text-anchor="middle" fill="#000">n.s.</text>
<line x1="1662.6" y1="250.4" x2="1790.8" y2="250.4" stroke="#000" stroke-width="2.2" stroke-linecap="butt"/>
<text x="1728.1" y="257.5" font-size="40" text-anchor="middle" fill="#000" font-weight="bold" letter-spacing="1.5">**</text>
<circle cx="2003" cy="138.9" r="10.5" fill="none" stroke="#1a1a1a" stroke-width="5"/>
<rect x="1992.5" y="174" width="21.2" height="21.2" fill="none" stroke="#8c8c8c" stroke-width="4.8"/>
<text x="2030.5" y="149.2" font-size="29.5" text-anchor="start" fill="#000">Cas9<tspan font-size="62%" dy="-0.42em">ctl</tspan></text>
<text x="2030.5" y="194.8" font-size="29.5" text-anchor="start" fill="#000">FSP1<tspan font-size="62%" dy="-0.42em">KO</tspan></text>
<text font-size="29.6" text-anchor="end" transform="translate(1652.5 426) rotate(-45)">DMSO</text>
<text font-size="29.6" text-anchor="end" transform="translate(1771 426) rotate(-45)">Erastin2</text>
<text font-size="29.6" text-anchor="end" transform="translate(1906 423.5) rotate(-45)">RSL3</text>
<text x="-1.5" y="620.8" font-size="46" text-anchor="start" fill="#000">d</text>
<text x="255.7" y="640.5" font-size="29.5" text-anchor="middle" fill="#000">GSH</text>
<line x1="195.5" y1="674.3" x2="195.5" y2="913.8" stroke="#000" stroke-width="2.6" stroke-linecap="butt"/>
<line x1="189.5" y1="898" x2="327.4" y2="898" stroke="#000" stroke-width="2.6" stroke-linecap="butt"/>
<line x1="189.5" y1="898" x2="195.5" y2="898" stroke="#000" stroke-width="2.6" stroke-linecap="butt"/>
<text x="179.5" y="907" font-size="29.5" text-anchor="end" fill="#000">0.0</text>
<line x1="189.5" y1="823.95" x2="195.5" y2="823.95" stroke="#000" stroke-width="2.6" stroke-linecap="butt"/>
<text x="179.5" y="831.7" font-size="29.5" text-anchor="end" fill="#000">0.5</text>
<line x1="189.5" y1="749.9" x2="195.5" y2="749.9" stroke="#000" stroke-width="2.6" stroke-linecap="butt"/>
<text x="179.5" y="756.7" font-size="29.5" text-anchor="end" fill="#000">1.0</text>
<line x1="189.5" y1="675.85" x2="195.5" y2="675.85" stroke="#000" stroke-width="2.6" stroke-linecap="butt"/>
<text x="179.5" y="681.5" font-size="29.5" text-anchor="end" fill="#000">1.5</text>
<line x1="221.6" y1="898" x2="221.6" y2="905.5" stroke="#000" stroke-width="2.6" stroke-linecap="butt"/>
<line x1="261" y1="898" x2="261" y2="905.5" stroke="#000" stroke-width="2.6" stroke-linecap="butt"/>
<line x1="299.7" y1="898" x2="299.7" y2="905.5" stroke="#000" stroke-width="2.6" stroke-linecap="butt"/>
<rect x="210.3" y="782.48" width="23.4" height="115.52" fill="none" stroke="#000" stroke-width="3.2"/>
<rect x="249" y="881.71" width="23.4" height="16.29" fill="none" stroke="#000" stroke-width="3.2"/>
<rect x="288.5" y="762.49" width="23.4" height="135.51" fill="none" stroke="#000" stroke-width="3.2"/>
<line x1="221.6" y1="739" x2="221.6" y2="821.2" stroke="#000" stroke-width="1.5" stroke-linecap="butt"/>
<line x1="216.6" y1="739" x2="226.6" y2="739" stroke="#000" stroke-width="1.5" stroke-linecap="butt"/>
<line x1="216.6" y1="821.2" x2="226.6" y2="821.2" stroke="#000" stroke-width="1.5" stroke-linecap="butt"/>
<line x1="261" y1="857" x2="261" y2="898" stroke="#000" stroke-width="1.5" stroke-linecap="butt"/>
<line x1="256" y1="857" x2="266" y2="857" stroke="#000" stroke-width="1.5" stroke-linecap="butt"/>
<line x1="256" y1="898" x2="266" y2="898" stroke="#000" stroke-width="1.5" stroke-linecap="butt"/>
<line x1="299.7" y1="708.3" x2="299.7" y2="814.1" stroke="#000" stroke-width="1.5" stroke-linecap="butt"/>
<line x1="294.7" y1="708.3" x2="304.7" y2="708.3" stroke="#000" stroke-width="1.5" stroke-linecap="butt"/>
<line x1="294.7" y1="814.1" x2="304.7" y2="814.1" stroke="#000" stroke-width="1.5" stroke-linecap="butt"/>
<circle cx="221.6" cy="736.5" r="4.6" fill="#000"/>
<circle cx="221.6" cy="793" r="4.6" fill="#000"/>
<circle cx="221.6" cy="815.6" r="4.6" fill="#000"/>
<circle cx="261" cy="857.3" r="4.6" fill="#000"/>
<circle cx="261" cy="875.4" r="4.6" fill="#000"/>
<circle cx="261" cy="910.1" r="4.6" fill="#000"/>
<circle cx="299.7" cy="701.8" r="4.6" fill="#000"/>
<circle cx="299.7" cy="779.4" r="4.6" fill="#000"/>
<circle cx="299.7" cy="802.9" r="4.6" fill="#000"/>
<line x1="216.8" y1="685.2" x2="301.4" y2="685.2" stroke="#000" stroke-width="2.2" stroke-linecap="butt"/>
<text x="261.1" y="681.5" font-size="26" text-anchor="middle" fill="#000">n.s.</text>
<text x="83.2" y="791" font-size="27.8" text-anchor="middle" fill="#000" transform="rotate(-90 83.2 791)">µmol total GSH/</text>
<text x="114" y="790" font-size="27.8" text-anchor="middle" fill="#000" transform="rotate(-90 114 790)">mg protein</text>
<text font-size="29.5" text-anchor="end" transform="translate(228.6 928) rotate(-45)">Cas9<tspan font-size="62%" dy="-0.42em">ctl</tspan></text>
<text font-size="29.5" text-anchor="end" transform="translate(274 930) rotate(-45)">Cas9<tspan font-size="62%" dy="-0.42em">ctl_</tspan><tspan dy="0.26em" font-size="100%">Era2</tspan></text>
<text font-size="29.5" text-anchor="end" transform="translate(320.7 928) rotate(-45)">FSP1<tspan font-size="62%" dy="-0.42em">KO</tspan></text>
<text x="393.8" y="620.8" font-size="46" text-anchor="start" fill="#000">e</text>
<text x="688.9" y="640.5" font-size="29.5" text-anchor="middle" fill="#000">GSSG</text>
<line x1="625.7" y1="672.6" x2="625.7" y2="911.5" stroke="#000" stroke-width="2.6" stroke-linecap="butt"/>
<line x1="619.7" y1="846" x2="756.9" y2="846" stroke="#000" stroke-width="2.6" stroke-linecap="butt"/>
<line x1="619.7" y1="846" x2="625.7" y2="846" stroke="#000" stroke-width="2.6" stroke-linecap="butt"/>
<text x="610.5" y="855.2" font-size="29.5" text-anchor="end" fill="#000">0.0</text>
<line x1="619.7" y1="802.9" x2="625.7" y2="802.9" stroke="#000" stroke-width="2.6" stroke-linecap="butt"/>
<text x="610.5" y="812.1" font-size="29.5" text-anchor="end" fill="#000">0.2</text>
<line x1="619.7" y1="759.8" x2="625.7" y2="759.8" stroke="#000" stroke-width="2.6" stroke-linecap="butt"/>
<text x="610.5" y="769" font-size="29.5" text-anchor="end" fill="#000">0.4</text>
<line x1="619.7" y1="716.7" x2="625.7" y2="716.7" stroke="#000" stroke-width="2.6" stroke-linecap="butt"/>
<text x="610.5" y="725.9" font-size="29.5" text-anchor="end" fill="#000">0.6</text>
<line x1="619.7" y1="673.6" x2="625.7" y2="673.6" stroke="#000" stroke-width="2.6" stroke-linecap="butt"/>
<text x="610.5" y="682.8" font-size="29.5" text-anchor="end" fill="#000">0.8</text>
<line x1="651" y1="846" x2="651" y2="853.5" stroke="#000" stroke-width="2.6" stroke-linecap="butt"/>
<line x1="690.6" y1="846" x2="690.6" y2="853.5" stroke="#000" stroke-width="2.6" stroke-linecap="butt"/>
<line x1="728.7" y1="846" x2="728.7" y2="853.5" stroke="#000" stroke-width="2.6" stroke-linecap="butt"/>
<rect x="639.8" y="778.12" width="23.4" height="67.88" fill="none" stroke="#000" stroke-width="3.2"/>
<rect x="679.3" y="846" width="23.4" height="19.39" fill="none" stroke="#000" stroke-width="3.2"/>
<rect x="718" y="766.7" width="23.4" height="79.3" fill="none" stroke="#000" stroke-width="3.2"/>
<line x1="652" y1="713.4" x2="652" y2="840.4" stroke="#000" stroke-width="1.5" stroke-linecap="butt"/>
<line x1="647" y1="713.4" x2="657" y2="713.4" stroke="#000" stroke-width="1.5" stroke-linecap="butt"/>
<line x1="647" y1="840.4" x2="657" y2="840.4" stroke="#000" stroke-width="1.5" stroke-linecap="butt"/>
<line x1="691" y1="824" x2="691" y2="910" stroke="#000" stroke-width="1.5" stroke-linecap="butt"/>
<line x1="686" y1="824" x2="696" y2="824" stroke="#000" stroke-width="1.5" stroke-linecap="butt"/>
<line x1="686" y1="910" x2="696" y2="910" stroke="#000" stroke-width="1.5" stroke-linecap="butt"/>
<line x1="730" y1="712.5" x2="730" y2="817.2" stroke="#000" stroke-width="1.5" stroke-linecap="butt"/>
<line x1="725" y1="712.5" x2="735" y2="712.5" stroke="#000" stroke-width="1.5" stroke-linecap="butt"/>
<line x1="725" y1="817.2" x2="735" y2="817.2" stroke="#000" stroke-width="1.5" stroke-linecap="butt"/>
<circle cx="651.9" cy="703.5" r="4.6" fill="#000"/>
<circle cx="645.4" cy="819.2" r="4.6" fill="#000"/>
<circle cx="658.1" cy="807.7" r="4.6" fill="#000"/>
<circle cx="683.5" cy="834.5" r="4.6" fill="#000"/>
<circle cx="697" cy="848" r="4.6" fill="#000"/>
<circle cx="691.2" cy="909.5" r="4.6" fill="#000"/>
<circle cx="730" cy="708.9" r="4.6" fill="#000"/>
<circle cx="730" cy="778.3" r="4.6" fill="#000"/>
<circle cx="730" cy="810.5" r="4.6" fill="#000"/>
<line x1="649" y1="685.2" x2="733.8" y2="685.2" stroke="#000" stroke-width="2.2" stroke-linecap="butt"/>
<text x="693.4" y="680.6" font-size="26" text-anchor="middle" fill="#000">n.s.</text>
<text x="514.5" y="782" font-size="27.8" text-anchor="middle" fill="#000" transform="rotate(-90 514.5 782)">µmol total GSSG/</text>
<text x="547" y="782" font-size="27.8" text-anchor="middle" fill="#000" transform="rotate(-90 547 782)">mg protein</text>
<text font-size="29.5" text-anchor="end" transform="translate(654.2 929.2) rotate(-45)">Cas9<tspan font-size="62%" dy="-0.42em">ctl</tspan></text>
<text font-size="29.5" text-anchor="end" transform="translate(700.9 930.2) rotate(-45)">Cas9<tspan font-size="62%" dy="-0.42em">ctl_</tspan><tspan dy="0.26em" font-size="100%">Era2</tspan></text>
<text font-size="29.5" text-anchor="end" transform="translate(747.3 932.7) rotate(-45)">FSP1<tspan font-size="62%" dy="-0.42em">KO</tspan></text>
<text x="5" y="1113.8" font-size="46" text-anchor="start" fill="#000">f</text>
<rect x="144.7" y="1520.1" width="646.3" height="9.2" fill="#dcdcdc"/>
<line x1="144.7" y1="1173.2" x2="144.7" y2="1699.3" stroke="#000" stroke-width="4.6" stroke-linecap="butt"/>
<line x1="121.6" y1="1699.3" x2="791" y2="1699.3" stroke="#000" stroke-width="4.6" stroke-linecap="butt"/>
<line x1="121.6" y1="1699.3" x2="144.7" y2="1699.3" stroke="#000" stroke-width="4.6" stroke-linecap="butt"/>
<text x="116.8" y="1713.9" font-size="35" text-anchor="end" fill="#000">0</text>
<line x1="121.6" y1="1524.7" x2="144.7" y2="1524.7" stroke="#000" stroke-width="4.6" stroke-linecap="butt"/>
<text x="116.8" y="1539.3" font-size="35" text-anchor="end" fill="#000">1</text>
<line x1="121.6" y1="1350.1" x2="144.7" y2="1350.1" stroke="#000" stroke-width="4.6" stroke-linecap="butt"/>
<text x="116.8" y="1364.7" font-size="35" text-anchor="end" fill="#000">2</text>
<line x1="121.6" y1="1175.5" x2="144.7" y2="1175.5" stroke="#000" stroke-width="4.6" stroke-linecap="butt"/>
<text x="116.8" y="1190.1" font-size="35" text-anchor="end" fill="#000">3</text>
<text x="467.4" y="1743.6" font-size="33.5" text-anchor="middle" fill="#000">Lipid species</text>
<text font-size="33.5" text-anchor="middle" transform="translate(71.5 1434.5) rotate(-90)">FSP1<tspan font-size="62%" dy="-0.42em">KO</tspan><tspan dy="0.26em" font-size="100%">:Cas9</tspan><tspan font-size="62%" dy="-0.42em">ctl</tspan><tspan dy="0.26em" font-size="100%"> (Average fold change)</tspan></text>
<circle cx="149.5" cy="1223" r="9.6" fill="#e3261c" stroke="#8a8a8a" stroke-width="1.6"/>
<circle cx="155.4" cy="1260" r="9.6" fill="#d6d6d6" stroke="#8a8a8a" stroke-width="1.6"/>
<circle cx="158.2" cy="1303" r="9.6" fill="#e3261c" stroke="#8a8a8a" stroke-width="1.6"/>
<circle cx="162.2" cy="1340" r="9.6" fill="#e3261c" stroke="#8a8a8a" stroke-width="1.6"/>
<circle cx="167" cy="1347" r="9.6" fill="#d6d6d6" stroke="#8a8a8a" stroke-width="1.6"/>
<circle cx="171" cy="1354" r="9.6" fill="#d6d6d6" stroke="#8a8a8a" stroke-width="1.6"/>
<circle cx="176.8" cy="1363.5" r="9.6" fill="#e3261c" stroke="#8a8a8a" stroke-width="1.6"/>
<circle cx="180" cy="1380" r="9.6" fill="#e3261c" stroke="#8a8a8a" stroke-width="1.6"/>
<circle cx="183.7" cy="1385" r="9.6" fill="#d6d6d6" stroke="#8a8a8a" stroke-width="1.6"/>
<circle cx="188.5" cy="1387.6" r="9.6" fill="#e3261c" stroke="#8a8a8a" stroke-width="1.6"/>
<circle cx="194" cy="1391" r="9.6" fill="#d6d6d6" stroke="#8a8a8a" stroke-width="1.6"/>
<circle cx="199.8" cy="1395.6" r="9.6" fill="#d6d6d6" stroke="#8a8a8a" stroke-width="1.6"/>
<circle cx="202.9" cy="1398.7" r="9.6" fill="#d6d6d6" stroke="#8a8a8a" stroke-width="1.6"/>
<circle cx="206" cy="1401.8" r="9.6" fill="#d6d6d6" stroke="#8a8a8a" stroke-width="1.6"/>
<circle cx="209.1" cy="1404.9" r="9.6" fill="#d6d6d6" stroke="#8a8a8a" stroke-width="1.6"/>
<circle cx="212.2" cy="1408" r="9.6" fill="#d6d6d6" stroke="#8a8a8a" stroke-width="1.6"/>
<circle cx="215.3" cy="1411.1" r="9.6" fill="#d6d6d6" stroke="#8a8a8a" stroke-width="1.6"/>
<circle cx="218.4" cy="1413.46" r="9.6" fill="#d6d6d6" stroke="#8a8a8a" stroke-width="1.6"/>
<circle cx="221.5" cy="1415.02" r="9.6" fill="#d6d6d6" stroke="#8a8a8a" stroke-width="1.6"/>
<circle cx="224.6" cy="1416.58" r="9.6" fill="#d6d6d6" stroke="#8a8a8a" stroke-width="1.6"/>
<circle cx="227.7" cy="1418.14" r="9.6" fill="#d6d6d6" stroke="#8a8a8a" stroke-width="1.6"/>
<circle cx="230.8" cy="1419.77" r="9.6" fill="#d6d6d6" stroke="#8a8a8a" stroke-width="1.6"/>
<circle cx="233.9" cy="1422.4" r="9.6" fill="#d6d6d6" stroke="#8a8a8a" stroke-width="1.6"/>
<circle cx="237" cy="1425.04" r="9.6" fill="#d6d6d6" stroke="#8a8a8a" stroke-width="1.6"/>
<circle cx="240.1" cy="1427.67" r="9.6" fill="#d6d6d6" stroke="#8a8a8a" stroke-width="1.6"/>
<circle cx="243.2" cy="1429.98" r="9.6" fill="#d6d6d6" stroke="#8a8a8a" stroke-width="1.6"/>
<circle cx="246.3" cy="1430.93" r="9.6" fill="#d6d6d6" stroke="#8a8a8a" stroke-width="1.6"/>
<circle cx="249.4" cy="1431.87" r="9.6" fill="#d6d6d6" stroke="#8a8a8a" stroke-width="1.6"/>
<circle cx="252.5" cy="1432.81" r="9.6" fill="#d6d6d6" stroke="#8a8a8a" stroke-width="1.6"/>
<circle cx="255.6" cy="1433.75" r="9.6" fill="#d6d6d6" stroke="#8a8a8a" stroke-width="1.6"/>
<circle cx="258.7" cy="1434.7" r="9.6" fill="#d6d6d6" stroke="#8a8a8a" stroke-width="1.6"/>
<circle cx="261.8" cy="1435.61" r="9.6" fill="#d6d6d6" stroke="#8a8a8a" stroke-width="1.6"/>
<circle cx="264.9" cy="1436.52" r="9.6" fill="#d6d6d6" stroke="#8a8a8a" stroke-width="1.6"/>
<circle cx="268" cy="1437.43" r="9.6" fill="#d6d6d6" stroke="#8a8a8a" stroke-width="1.6"/>
<circle cx="271.1" cy="1438.33" r="9.6" fill="#d6d6d6" stroke="#8a8a8a" stroke-width="1.6"/>
<circle cx="274.2" cy="1439.24" r="9.6" fill="#d6d6d6" stroke="#8a8a8a" stroke-width="1.6"/>
<circle cx="277.3" cy="1440.51" r="9.6" fill="#d6d6d6" stroke="#8a8a8a" stroke-width="1.6"/>
<circle cx="280.4" cy="1443.64" r="9.6" fill="#d6d6d6" stroke="#8a8a8a" stroke-width="1.6"/>
<circle cx="283.5" cy="1446.78" r="9.6" fill="#d6d6d6" stroke="#8a8a8a" stroke-width="1.6"/>
<circle cx="286.6" cy="1449.72" r="9.6" fill="#d6d6d6" stroke="#8a8a8a" stroke-width="1.6"/>
<circle cx="289.7" cy="1452.38" r="9.6" fill="#d6d6d6" stroke="#8a8a8a" stroke-width="1.6"/>
<circle cx="292.8" cy="1455.04" r="9.6" fill="#d6d6d6" stroke="#8a8a8a" stroke-width="1.6"/>
<circle cx="295.9" cy="1457.7" r="9.6" fill="#d6d6d6" stroke="#8a8a8a" stroke-width="1.6"/>
<circle cx="299" cy="1459.74" r="9.6" fill="#d6d6d6" stroke="#8a8a8a" stroke-width="1.6"/>
<circle cx="302.1" cy="1461.28" r="9.6" fill="#d6d6d6" stroke="#8a8a8a" stroke-width="1.6"/>
<circle cx="305.1" cy="1462.77" r="9.6" fill="#d6d6d6" stroke="#8a8a8a" stroke-width="1.6"/>
<circle cx="308.1" cy="1464.26" r="9.6" fill="#d6d6d6" stroke="#8a8a8a" stroke-width="1.6"/>
<circle cx="311.1" cy="1465.76" r="9.6" fill="#d6d6d6" stroke="#8a8a8a" stroke-width="1.6"/>
<circle cx="314.1" cy="1467.66" r="9.6" fill="#d6d6d6" stroke="#8a8a8a" stroke-width="1.6"/>
<circle cx="317.1" cy="1469.56" r="9.6" fill="#d6d6d6" stroke="#8a8a8a" stroke-width="1.6"/>
<circle cx="320.1" cy="1471.45" r="9.6" fill="#d6d6d6" stroke="#8a8a8a" stroke-width="1.6"/>
<circle cx="323.1" cy="1473.35" r="9.6" fill="#d6d6d6" stroke="#8a8a8a" stroke-width="1.6"/>
<circle cx="326.1" cy="1474.67" r="9.6" fill="#d6d6d6" stroke="#8a8a8a" stroke-width="1.6"/>
<circle cx="329.1" cy="1475.42" r="9.6" fill="#d6d6d6" stroke="#8a8a8a" stroke-width="1.6"/>
<circle cx="332.1" cy="1476.17" r="9.6" fill="#d6d6d6" stroke="#8a8a8a" stroke-width="1.6"/>
<circle cx="335.1" cy="1476.91" r="9.6" fill="#d6d6d6" stroke="#8a8a8a" stroke-width="1.6"/>
<circle cx="338.1" cy="1477.66" r="9.6" fill="#d6d6d6" stroke="#8a8a8a" stroke-width="1.6"/>
<circle cx="341.1" cy="1478.4" r="9.6" fill="#d6d6d6" stroke="#8a8a8a" stroke-width="1.6"/>
<circle cx="344.1" cy="1479.15" r="9.6" fill="#d6d6d6" stroke="#8a8a8a" stroke-width="1.6"/>
<circle cx="347.1" cy="1480.41" r="9.6" fill="#d6d6d6" stroke="#8a8a8a" stroke-width="1.6"/>
<circle cx="350.1" cy="1481.91" r="9.6" fill="#d6d6d6" stroke="#8a8a8a" stroke-width="1.6"/>
<circle cx="353.1" cy="1483.42" r="9.6" fill="#d6d6d6" stroke="#8a8a8a" stroke-width="1.6"/>
<circle cx="356.1" cy="1484.93" r="9.6" fill="#d6d6d6" stroke="#8a8a8a" stroke-width="1.6"/>
<circle cx="359.1" cy="1486.44" r="9.6" fill="#d6d6d6" stroke="#8a8a8a" stroke-width="1.6"/>
<circle cx="362.1" cy="1487.95" r="9.6" fill="#d6d6d6" stroke="#8a8a8a" stroke-width="1.6"/>
<circle cx="365.1" cy="1488.42" r="9.6" fill="#d6d6d6" stroke="#8a8a8a" stroke-width="1.6"/>
<circle cx="368.1" cy="1488.86" r="9.6" fill="#d6d6d6" stroke="#8a8a8a" stroke-width="1.6"/>
<circle cx="371.1" cy="1489.3" r="9.6" fill="#d6d6d6" stroke="#8a8a8a" stroke-width="1.6"/>
<circle cx="374.1" cy="1489.74" r="9.6" fill="#d6d6d6" stroke="#8a8a8a" stroke-width="1.6"/>
<circle cx="377.1" cy="1490.18" r="9.6" fill="#d6d6d6" stroke="#8a8a8a" stroke-width="1.6"/>
<circle cx="380.1" cy="1490.62" r="9.6" fill="#d6d6d6" stroke="#8a8a8a" stroke-width="1.6"/>
<circle cx="383.1" cy="1491.06" r="9.6" fill="#d6d6d6" stroke="#8a8a8a" stroke-width="1.6"/>
<circle cx="386.1" cy="1491.49" r="9.6" fill="#d6d6d6" stroke="#8a8a8a" stroke-width="1.6"/>
<circle cx="389.1" cy="1491.93" r="9.6" fill="#d6d6d6" stroke="#8a8a8a" stroke-width="1.6"/>
<circle cx="392.1" cy="1492.37" r="9.6" fill="#d6d6d6" stroke="#8a8a8a" stroke-width="1.6"/>
<circle cx="395.1" cy="1492.81" r="9.6" fill="#d6d6d6" stroke="#8a8a8a" stroke-width="1.6"/>
<circle cx="398.1" cy="1493.22" r="9.6" fill="#d6d6d6" stroke="#8a8a8a" stroke-width="1.6"/>
<circle cx="401.1" cy="1493.6" r="9.6" fill="#d6d6d6" stroke="#8a8a8a" stroke-width="1.6"/>
<circle cx="404.1" cy="1493.99" r="9.6" fill="#d6d6d6" stroke="#8a8a8a" stroke-width="1.6"/>
<circle cx="407.1" cy="1494.38" r="9.6" fill="#d6d6d6" stroke="#8a8a8a" stroke-width="1.6"/>
<circle cx="410.1" cy="1494.76" r="9.6" fill="#d6d6d6" stroke="#8a8a8a" stroke-width="1.6"/>
<circle cx="413.1" cy="1495.15" r="9.6" fill="#d6d6d6" stroke="#8a8a8a" stroke-width="1.6"/>
<circle cx="416.1" cy="1495.53" r="9.6" fill="#d6d6d6" stroke="#8a8a8a" stroke-width="1.6"/>
<circle cx="419.1" cy="1495.92" r="9.6" fill="#d6d6d6" stroke="#8a8a8a" stroke-width="1.6"/>
<circle cx="422.1" cy="1496.31" r="9.6" fill="#d6d6d6" stroke="#8a8a8a" stroke-width="1.6"/>
<circle cx="425.1" cy="1496.69" r="9.6" fill="#d6d6d6" stroke="#8a8a8a" stroke-width="1.6"/>
<circle cx="428.1" cy="1497.08" r="9.6" fill="#d6d6d6" stroke="#8a8a8a" stroke-width="1.6"/>
<circle cx="431.1" cy="1497.47" r="9.6" fill="#d6d6d6" stroke="#8a8a8a" stroke-width="1.6"/>
<circle cx="434.1" cy="1497.92" r="9.6" fill="#d6d6d6" stroke="#8a8a8a" stroke-width="1.6"/>
<circle cx="437.1" cy="1498.37" r="9.6" fill="#d6d6d6" stroke="#8a8a8a" stroke-width="1.6"/>
<circle cx="440.1" cy="1498.82" r="9.6" fill="#d6d6d6" stroke="#8a8a8a" stroke-width="1.6"/>
<circle cx="443.1" cy="1499.26" r="9.6" fill="#d6d6d6" stroke="#8a8a8a" stroke-width="1.6"/>
<circle cx="446.1" cy="1499.71" r="9.6" fill="#d6d6d6" stroke="#8a8a8a" stroke-width="1.6"/>
<circle cx="449.1" cy="1500.16" r="9.6" fill="#d6d6d6" stroke="#8a8a8a" stroke-width="1.6"/>
<circle cx="452.1" cy="1500.61" r="9.6" fill="#d6d6d6" stroke="#8a8a8a" stroke-width="1.6"/>
<circle cx="455.1" cy="1501.05" r="9.6" fill="#d6d6d6" stroke="#8a8a8a" stroke-width="1.6"/>
<circle cx="458.1" cy="1501.5" r="9.6" fill="#d6d6d6" stroke="#8a8a8a" stroke-width="1.6"/>
<circle cx="461.1" cy="1501.95" r="9.6" fill="#d6d6d6" stroke="#8a8a8a" stroke-width="1.6"/>
<circle cx="464.1" cy="1502.4" r="9.6" fill="#d6d6d6" stroke="#8a8a8a" stroke-width="1.6"/>
<circle cx="467.1" cy="1502.87" r="9.6" fill="#d6d6d6" stroke="#8a8a8a" stroke-width="1.6"/>
<circle cx="470.1" cy="1503.35" r="9.6" fill="#d6d6d6" stroke="#8a8a8a" stroke-width="1.6"/>
<circle cx="473.1" cy="1503.83" r="9.6" fill="#d6d6d6" stroke="#8a8a8a" stroke-width="1.6"/>
<circle cx="476.1" cy="1504.32" r="9.6" fill="#d6d6d6" stroke="#8a8a8a" stroke-width="1.6"/>
<circle cx="479.1" cy="1504.8" r="9.6" fill="#d6d6d6" stroke="#8a8a8a" stroke-width="1.6"/>
<circle cx="482.1" cy="1505.28" r="9.6" fill="#d6d6d6" stroke="#8a8a8a" stroke-width="1.6"/>
<circle cx="485.1" cy="1505.76" r="9.6" fill="#d6d6d6" stroke="#8a8a8a" stroke-width="1.6"/>
<circle cx="488.1" cy="1506.25" r="9.6" fill="#d6d6d6" stroke="#8a8a8a" stroke-width="1.6"/>
<circle cx="491.1" cy="1506.73" r="9.6" fill="#d6d6d6" stroke="#8a8a8a" stroke-width="1.6"/>
<circle cx="494.1" cy="1507.21" r="9.6" fill="#d6d6d6" stroke="#8a8a8a" stroke-width="1.6"/>
<circle cx="497.1" cy="1507.69" r="9.6" fill="#d6d6d6" stroke="#8a8a8a" stroke-width="1.6"/>
<circle cx="500.1" cy="1508.15" r="9.6" fill="#d6d6d6" stroke="#8a8a8a" stroke-width="1.6"/>
<circle cx="503.1" cy="1508.55" r="9.6" fill="#d6d6d6" stroke="#8a8a8a" stroke-width="1.6"/>
<circle cx="506.1" cy="1508.96" r="9.6" fill="#d6d6d6" stroke="#8a8a8a" stroke-width="1.6"/>
<circle cx="509.1" cy="1509.36" r="9.6" fill="#d6d6d6" stroke="#8a8a8a" stroke-width="1.6"/>
<circle cx="512.1" cy="1509.77" r="9.6" fill="#d6d6d6" stroke="#8a8a8a" stroke-width="1.6"/>
<circle cx="515.1" cy="1510.17" r="9.6" fill="#d6d6d6" stroke="#8a8a8a" stroke-width="1.6"/>
<circle cx="518.1" cy="1510.58" r="9.6" fill="#d6d6d6" stroke="#8a8a8a" stroke-width="1.6"/>
<circle cx="521.1" cy="1510.99" r="9.6" fill="#d6d6d6" stroke="#8a8a8a" stroke-width="1.6"/>
<circle cx="524.1" cy="1511.39" r="9.6" fill="#d6d6d6" stroke="#8a8a8a" stroke-width="1.6"/>
<circle cx="527.1" cy="1511.8" r="9.6" fill="#d6d6d6" stroke="#8a8a8a" stroke-width="1.6"/>
<circle cx="530.1" cy="1512.2" r="9.6" fill="#d6d6d6" stroke="#8a8a8a" stroke-width="1.6"/>
<circle cx="533.1" cy="1512.61" r="9.6" fill="#d6d6d6" stroke="#8a8a8a" stroke-width="1.6"/>
<circle cx="536.1" cy="1513.01" r="9.6" fill="#d6d6d6" stroke="#8a8a8a" stroke-width="1.6"/>
<circle cx="539.1" cy="1513.42" r="9.6" fill="#d6d6d6" stroke="#8a8a8a" stroke-width="1.6"/>
<circle cx="542.1" cy="1513.82" r="9.6" fill="#d6d6d6" stroke="#8a8a8a" stroke-width="1.6"/>
<circle cx="545.1" cy="1514.23" r="9.6" fill="#d6d6d6" stroke="#8a8a8a" stroke-width="1.6"/>
<circle cx="548.1" cy="1514.63" r="9.6" fill="#d6d6d6" stroke="#8a8a8a" stroke-width="1.6"/>
<circle cx="551.1" cy="1515.04" r="9.6" fill="#d6d6d6" stroke="#8a8a8a" stroke-width="1.6"/>
<circle cx="554.1" cy="1515.44" r="9.6" fill="#d6d6d6" stroke="#8a8a8a" stroke-width="1.6"/>
<circle cx="557.1" cy="1515.86" r="9.6" fill="#d6d6d6" stroke="#8a8a8a" stroke-width="1.6"/>
<circle cx="560.1" cy="1516.31" r="9.6" fill="#d6d6d6" stroke="#8a8a8a" stroke-width="1.6"/>
<circle cx="563.1" cy="1516.76" r="9.6" fill="#d6d6d6" stroke="#8a8a8a" stroke-width="1.6"/>
<circle cx="566.1" cy="1517.2" r="9.6" fill="#d6d6d6" stroke="#8a8a8a" stroke-width="1.6"/>
<circle cx="569.1" cy="1517.65" r="9.6" fill="#d6d6d6" stroke="#8a8a8a" stroke-width="1.6"/>
<circle cx="572.1" cy="1518.09" r="9.6" fill="#d6d6d6" stroke="#8a8a8a" stroke-width="1.6"/>
<circle cx="575.1" cy="1518.54" r="9.6" fill="#d6d6d6" stroke="#8a8a8a" stroke-width="1.6"/>
<circle cx="578.1" cy="1518.99" r="9.6" fill="#d6d6d6" stroke="#8a8a8a" stroke-width="1.6"/>
<circle cx="581.1" cy="1519.43" r="9.6" fill="#d6d6d6" stroke="#8a8a8a" stroke-width="1.6"/>
<circle cx="584.1" cy="1519.88" r="9.6" fill="#d6d6d6" stroke="#8a8a8a" stroke-width="1.6"/>
<circle cx="587.1" cy="1520.32" r="9.6" fill="#d6d6d6" stroke="#8a8a8a" stroke-width="1.6"/>
<circle cx="590.1" cy="1520.77" r="9.6" fill="#d6d6d6" stroke="#8a8a8a" stroke-width="1.6"/>
<circle cx="593.1" cy="1521.22" r="9.6" fill="#d6d6d6" stroke="#8a8a8a" stroke-width="1.6"/>
<circle cx="596.1" cy="1521.66" r="9.6" fill="#d6d6d6" stroke="#8a8a8a" stroke-width="1.6"/>
<circle cx="599.1" cy="1522.11" r="9.6" fill="#d6d6d6" stroke="#8a8a8a" stroke-width="1.6"/>
<circle cx="602.1" cy="1522.55" r="9.6" fill="#d6d6d6" stroke="#8a8a8a" stroke-width="1.6"/>
<circle cx="605.1" cy="1523" r="9.6" fill="#d6d6d6" stroke="#8a8a8a" stroke-width="1.6"/>
<circle cx="608.1" cy="1523.45" r="9.6" fill="#d6d6d6" stroke="#8a8a8a" stroke-width="1.6"/>
<circle cx="611.1" cy="1523.89" r="9.6" fill="#d6d6d6" stroke="#8a8a8a" stroke-width="1.6"/>
<circle cx="614.1" cy="1524.34" r="9.6" fill="#d6d6d6" stroke="#8a8a8a" stroke-width="1.6"/>
<circle cx="617.1" cy="1524.78" r="9.6" fill="#d6d6d6" stroke="#8a8a8a" stroke-width="1.6"/>
<circle cx="620.1" cy="1525.23" r="9.6" fill="#d6d6d6" stroke="#8a8a8a" stroke-width="1.6"/>
<circle cx="623.1" cy="1525.68" r="9.6" fill="#d6d6d6" stroke="#8a8a8a" stroke-width="1.6"/>
<circle cx="626.1" cy="1526.12" r="9.6" fill="#d6d6d6" stroke="#8a8a8a" stroke-width="1.6"/>
<circle cx="629.1" cy="1526.57" r="9.6" fill="#d6d6d6" stroke="#8a8a8a" stroke-width="1.6"/>
<circle cx="632.1" cy="1527.03" r="9.6" fill="#d6d6d6" stroke="#8a8a8a" stroke-width="1.6"/>
<circle cx="635.1" cy="1527.84" r="9.6" fill="#d6d6d6" stroke="#8a8a8a" stroke-width="1.6"/>
<circle cx="638.1" cy="1528.65" r="9.6" fill="#d6d6d6" stroke="#8a8a8a" stroke-width="1.6"/>
<circle cx="641.1" cy="1529.45" r="9.6" fill="#d6d6d6" stroke="#8a8a8a" stroke-width="1.6"/>
<circle cx="644.1" cy="1530.26" r="9.6" fill="#d6d6d6" stroke="#8a8a8a" stroke-width="1.6"/>
<circle cx="647.1" cy="1531.07" r="9.6" fill="#d6d6d6" stroke="#8a8a8a" stroke-width="1.6"/>
<circle cx="650.1" cy="1531.88" r="9.6" fill="#d6d6d6" stroke="#8a8a8a" stroke-width="1.6"/>
<circle cx="653.1" cy="1532.69" r="9.6" fill="#d6d6d6" stroke="#8a8a8a" stroke-width="1.6"/>
<circle cx="656.1" cy="1533.5" r="9.6" fill="#d6d6d6" stroke="#8a8a8a" stroke-width="1.6"/>
<circle cx="659.1" cy="1534.31" r="9.6" fill="#d6d6d6" stroke="#8a8a8a" stroke-width="1.6"/>
<circle cx="662.1" cy="1535.12" r="9.6" fill="#d6d6d6" stroke="#8a8a8a" stroke-width="1.6"/>
<circle cx="665.1" cy="1535.93" r="9.6" fill="#d6d6d6" stroke="#8a8a8a" stroke-width="1.6"/>
<circle cx="668.1" cy="1536.74" r="9.6" fill="#d6d6d6" stroke="#8a8a8a" stroke-width="1.6"/>
<circle cx="671.1" cy="1537.55" r="9.6" fill="#d6d6d6" stroke="#8a8a8a" stroke-width="1.6"/>
<circle cx="674.1" cy="1538.36" r="9.6" fill="#d6d6d6" stroke="#8a8a8a" stroke-width="1.6"/>
<circle cx="677.1" cy="1539.17" r="9.6" fill="#d6d6d6" stroke="#8a8a8a" stroke-width="1.6"/>
<circle cx="680.1" cy="1540.2" r="9.6" fill="#d6d6d6" stroke="#8a8a8a" stroke-width="1.6"/>
<circle cx="683.1" cy="1541.27" r="9.6" fill="#d6d6d6" stroke="#8a8a8a" stroke-width="1.6"/>
<circle cx="686.1" cy="1542.35" r="9.6" fill="#d6d6d6" stroke="#8a8a8a" stroke-width="1.6"/>
<circle cx="689.1" cy="1543.42" r="9.6" fill="#d6d6d6" stroke="#8a8a8a" stroke-width="1.6"/>
<circle cx="692.1" cy="1544.5" r="9.6" fill="#d6d6d6" stroke="#8a8a8a" stroke-width="1.6"/>
<circle cx="695.1" cy="1545.57" r="9.6" fill="#d6d6d6" stroke="#8a8a8a" stroke-width="1.6"/>
<circle cx="698.1" cy="1546.65" r="9.6" fill="#4046b8" stroke="#8a8a8a" stroke-width="1.6"/>
<circle cx="701.1" cy="1546.93" r="9.6" fill="#d6d6d6" stroke="#8a8a8a" stroke-width="1.6"/>
<circle cx="704.1" cy="1546.96" r="9.6" fill="#d6d6d6" stroke="#8a8a8a" stroke-width="1.6"/>
<circle cx="707.1" cy="1546.99" r="9.6" fill="#d6d6d6" stroke="#8a8a8a" stroke-width="1.6"/>
<circle cx="710.1" cy="1547.3" r="9.6" fill="#d6d6d6" stroke="#8a8a8a" stroke-width="1.6"/>
<circle cx="713.1" cy="1547.74" r="9.6" fill="#d6d6d6" stroke="#8a8a8a" stroke-width="1.6"/>
<circle cx="716.1" cy="1548.17" r="9.6" fill="#d6d6d6" stroke="#8a8a8a" stroke-width="1.6"/>
<circle cx="719.1" cy="1548.61" r="9.6" fill="#d6d6d6" stroke="#8a8a8a" stroke-width="1.6"/>
<circle cx="722.1" cy="1549.04" r="9.6" fill="#d6d6d6" stroke="#8a8a8a" stroke-width="1.6"/>
<circle cx="725.1" cy="1549.48" r="9.6" fill="#d6d6d6" stroke="#8a8a8a" stroke-width="1.6"/>
<circle cx="728.1" cy="1549.91" r="9.6" fill="#d6d6d6" stroke="#8a8a8a" stroke-width="1.6"/>
<circle cx="731.1" cy="1550.34" r="9.6" fill="#d6d6d6" stroke="#8a8a8a" stroke-width="1.6"/>
<circle cx="734.1" cy="1550.78" r="9.6" fill="#d6d6d6" stroke="#8a8a8a" stroke-width="1.6"/>
<circle cx="737.1" cy="1551.21" r="9.6" fill="#d6d6d6" stroke="#8a8a8a" stroke-width="1.6"/>
<circle cx="742" cy="1552.5" r="9.6" fill="#d6d6d6" stroke="#8a8a8a" stroke-width="1.6"/>
<circle cx="746" cy="1553.5" r="9.6" fill="#d6d6d6" stroke="#8a8a8a" stroke-width="1.6"/>
<circle cx="749" cy="1554.5" r="9.6" fill="#4046b8" stroke="#8a8a8a" stroke-width="1.6"/>
<circle cx="752" cy="1562" r="9.6" fill="#4046b8" stroke="#8a8a8a" stroke-width="1.6"/>
<circle cx="755" cy="1563.5" r="9.6" fill="#d6d6d6" stroke="#8a8a8a" stroke-width="1.6"/>
<circle cx="758.1" cy="1567.4" r="9.6" fill="#4046b8" stroke="#8a8a8a" stroke-width="1.6"/>
<circle cx="761.2" cy="1580.3" r="9.6" fill="#d6d6d6" stroke="#8a8a8a" stroke-width="1.6"/>
<circle cx="765.7" cy="1584.9" r="9.6" fill="#d6d6d6" stroke="#8a8a8a" stroke-width="1.6"/>
<circle cx="772.6" cy="1588.7" r="9.6" fill="#d6d6d6" stroke="#8a8a8a" stroke-width="1.6"/>
<circle cx="777.1" cy="1604.6" r="9.6" fill="#d6d6d6" stroke="#8a8a8a" stroke-width="1.6"/>
<text x="174.8" y="1200.7" font-size="24.3" text-anchor="start" fill="#000">C18:1 LPC</text>
<line x1="159.4" y1="1211.5" x2="175" y2="1197.5" stroke="#000" stroke-width="2" stroke-linecap="butt"/>
<text x="185" y="1278.4" font-size="24.3" text-anchor="start" fill="#000">C16:0e LPCe</text>
<line x1="169.3" y1="1290" x2="183.2" y2="1276.1" stroke="#000" stroke-width="2" stroke-linecap="butt"/>
<text x="186.8" y="1313.1" font-size="24.3" text-anchor="start" fill="#000">C18:1e LPCe</text>
<line x1="173.2" y1="1329" x2="187.3" y2="1315.8" stroke="#000" stroke-width="2" stroke-linecap="butt"/>
<text x="201.7" y="1339.5" font-size="24.3" text-anchor="start" fill="#000">C16:0 LPC</text>
<line x1="186.2" y1="1355.5" x2="200.1" y2="1342" stroke="#000" stroke-width="2" stroke-linecap="butt"/>
<text x="209.2" y="1365.5" font-size="24.3" text-anchor="start" fill="#000">C18:1 LPE</text>
<line x1="190.7" y1="1372" x2="204.6" y2="1358.5" stroke="#000" stroke-width="2" stroke-linecap="butt"/>
<text x="252.4" y="1392.2" font-size="24.3" text-anchor="start" fill="#000">C18:0 LPA</text>
<line x1="203.7" y1="1379.5" x2="248.4" y2="1384.7" stroke="#000" stroke-width="2" stroke-linecap="butt"/>
<text x="257.9" y="1418.4" font-size="24.3" text-anchor="start" fill="#000">C18:0 LPE</text>
<line x1="211.7" y1="1385.5" x2="254.4" y2="1406.4" stroke="#000" stroke-width="2" stroke-linecap="butt"/>
<text x="674.4" y="1582.1" font-size="24.3" text-anchor="end" fill="#000">C16:0/C20:4 PE</text>
<line x1="676" y1="1570.9" x2="690.5" y2="1556.7" stroke="#000" stroke-width="2" stroke-linecap="butt"/>
<text x="709.7" y="1607.4" font-size="24.3" text-anchor="end" fill="#000">C18:0/C20:4 PC</text>
<line x1="710.7" y1="1589.1" x2="736.8" y2="1567.4" stroke="#000" stroke-width="2" stroke-linecap="butt"/>
<text x="714.2" y="1632.7" font-size="24.3" text-anchor="end" fill="#000">C18:0/C20:4 PE</text>
<line x1="715.9" y1="1612.2" x2="741.4" y2="1575.7" stroke="#000" stroke-width="2" stroke-linecap="butt"/>
<text x="722.6" y="1658.1" font-size="24.3" text-anchor="end" fill="#000">C16:0/C20:4 PC</text>
<line x1="723.9" y1="1640.3" x2="748.2" y2="1582.6" stroke="#000" stroke-width="2" stroke-linecap="butt"/>
<text x="929.5" y="626.8" font-size="46" text-anchor="start" fill="#000">g</text>
<line x1="1063.7" y1="678.5" x2="1063.7" y2="1042.7" stroke="#000" stroke-width="3.4" stroke-linecap="butt"/>
<line x1="1048.7" y1="1042.7" x2="1304.3" y2="1042.7" stroke="#000" stroke-width="3.4" stroke-linecap="butt"/>
<line x1="1048.7" y1="1042.7" x2="1063.7" y2="1042.7" stroke="#000" stroke-width="3.4" stroke-linecap="butt"/>
<text x="1044.2" y="1053.2" font-size="29.5" text-anchor="end" fill="#000">0</text>
<line x1="1048.7" y1="921.87" x2="1063.7" y2="921.87" stroke="#000" stroke-width="3.4" stroke-linecap="butt"/>
<text x="1044.2" y="932.37" font-size="29.5" text-anchor="end" fill="#000">20</text>
<line x1="1048.7" y1="801.03" x2="1063.7" y2="801.03" stroke="#000" stroke-width="3.4" stroke-linecap="butt"/>
<text x="1044.2" y="811.53" font-size="29.5" text-anchor="end" fill="#000">40</text>
<line x1="1048.7" y1="680.2" x2="1063.7" y2="680.2" stroke="#000" stroke-width="3.4" stroke-linecap="butt"/>
<text x="1044.2" y="690.7" font-size="29.5" text-anchor="end" fill="#000">60</text>
<line x1="1111.2" y1="1042.7" x2="1111.2" y2="1056.5" stroke="#000" stroke-width="3.4" stroke-linecap="butt"/>
<line x1="1183.3" y1="1042.7" x2="1183.3" y2="1056.5" stroke="#000" stroke-width="3.4" stroke-linecap="butt"/>
<line x1="1255.8" y1="1042.7" x2="1255.8" y2="1056.5" stroke="#000" stroke-width="3.4" stroke-linecap="butt"/>
<text x="1203.4" y="636.1" font-size="28.5" text-anchor="middle" fill="#000">16:0 20:4 PE</text>
<text x="1003.5" y="854" font-size="28.9" text-anchor="middle" fill="#000" transform="rotate(-90 1003.5 854)">Levels (AU)</text>
<circle cx="1104.5" cy="709.6" r="12" fill="#000"/>
<circle cx="1117.8" cy="723" r="12" fill="#000"/>
<circle cx="1098.8" cy="747" r="12" fill="#000"/>
<circle cx="1111.2" cy="753" r="12" fill="#000"/>
<circle cx="1124.5" cy="766.4" r="12" fill="#000"/>
<circle cx="1171.3" cy="780.5" r="8.85" fill="#e4321b" stroke="#000" stroke-width="2.8"/>
<circle cx="1178" cy="788.8" r="8.85" fill="#e4321b" stroke="#000" stroke-width="2.8"/>
<circle cx="1182.3" cy="790.5" r="8.85" fill="#e4321b" stroke="#000" stroke-width="2.8"/>
<circle cx="1189" cy="797.2" r="8.85" fill="#e4321b" stroke="#000" stroke-width="2.8"/>
<circle cx="1196.7" cy="807.9" r="8.85" fill="#e4321b" stroke="#000" stroke-width="2.8"/>
<circle cx="1244.1" cy="736.4" r="8.85" fill="#e4321b" stroke="#000" stroke-width="2.8"/>
<circle cx="1269.2" cy="737.7" r="8.85" fill="#e4321b" stroke="#000" stroke-width="2.8"/>
<circle cx="1244.1" cy="782.1" r="8.85" fill="#e4321b" stroke="#000" stroke-width="2.8"/>
<circle cx="1269.2" cy="792.2" r="8.85" fill="#e4321b" stroke="#000" stroke-width="2.8"/>
<line x1="1097" y1="741" x2="1136.5" y2="741" stroke="#000" stroke-width="3.4" stroke-linecap="butt"/>
<line x1="1160" y1="792.2" x2="1208" y2="792.2" stroke="#000" stroke-width="3.4" stroke-linecap="butt"/>
<line x1="1232.4" y1="762.1" x2="1280.2" y2="762.1" stroke="#000" stroke-width="3.4" stroke-linecap="butt"/>
<text x="1179.2" y="1088.9" font-size="29.5" text-anchor="middle" fill="#000">KO2</text>
<text x="1254.2" y="1088.9" font-size="29.5" text-anchor="middle" fill="#000">KO1</text>
<polyline points="1146.4,1094.4 1146.4,1106.5 1286.3,1106.5 1286.3,1094.4" fill="none" stroke="#000" stroke-width="1.9" stroke-linejoin="miter"/>
<text x="1174.8" y="1139.9" font-size="25.5" text-anchor="start" fill="#000">FSP1<tspan font-size="60%" dx="1.5" dy="-7.3">KO</tspan></text>
<text font-size="28" text-anchor="end" transform="translate(1120.7 1088.7) rotate(-45)">Cas9<tspan font-size="62%" dy="-0.42em">ctl</tspan></text>
<polyline points="1107.8,693.6 1107.8,681.9 1187.3,681.9 1187.3,693.6" fill="none" stroke="#000" stroke-width="1.9" stroke-linejoin="miter"/>
<text x="1149.65" y="686.8" font-size="40" text-anchor="middle" fill="#000" font-weight="bold" letter-spacing="1.5">**</text>
<line x1="1445.3" y1="674.5" x2="1445.3" y2="1042.1" stroke="#000" stroke-width="3.4" stroke-linecap="butt"/>
<line x1="1430.2" y1="1042.1" x2="1689.2" y2="1042.1" stroke="#000" stroke-width="3.4" stroke-linecap="butt"/>
<line x1="1430.3" y1="1042.1" x2="1445.3" y2="1042.1" stroke="#000" stroke-width="3.4" stroke-linecap="butt"/>
<text x="1425.8" y="1052.6" font-size="29.5" text-anchor="end" fill="#000">0</text>
<line x1="1430.3" y1="968.92" x2="1445.3" y2="968.92" stroke="#000" stroke-width="3.4" stroke-linecap="butt"/>
<text x="1425.8" y="979.42" font-size="29.5" text-anchor="end" fill="#000">50</text>
<line x1="1430.3" y1="895.74" x2="1445.3" y2="895.74" stroke="#000" stroke-width="3.4" stroke-linecap="butt"/>
<text x="1425.8" y="906.24" font-size="29.5" text-anchor="end" fill="#000">100</text>
<line x1="1430.3" y1="822.56" x2="1445.3" y2="822.56" stroke="#000" stroke-width="3.4" stroke-linecap="butt"/>
<text x="1425.8" y="833.06" font-size="29.5" text-anchor="end" fill="#000">150</text>
<line x1="1430.3" y1="749.38" x2="1445.3" y2="749.38" stroke="#000" stroke-width="3.4" stroke-linecap="butt"/>
<text x="1425.8" y="759.88" font-size="29.5" text-anchor="end" fill="#000">200</text>
<line x1="1430.3" y1="676.2" x2="1445.3" y2="676.2" stroke="#000" stroke-width="3.4" stroke-linecap="butt"/>
<text x="1425.8" y="686.7" font-size="29.5" text-anchor="end" fill="#000">250</text>
<line x1="1493.7" y1="1042.1" x2="1493.7" y2="1055.9" stroke="#000" stroke-width="3.4" stroke-linecap="butt"/>
<line x1="1567.2" y1="1042.1" x2="1567.2" y2="1055.9" stroke="#000" stroke-width="3.4" stroke-linecap="butt"/>
<line x1="1640" y1="1042.1" x2="1640" y2="1055.9" stroke="#000" stroke-width="3.4" stroke-linecap="butt"/>
<text x="1562.2" y="636.1" font-size="28.5" text-anchor="middle" fill="#000">18:0 20:4 PE</text>
<text x="1370" y="854" font-size="28.9" text-anchor="middle" fill="#000" transform="rotate(-90 1370 854)">Levels (AU)</text>
<circle cx="1493.7" cy="735.4" r="12" fill="#000"/>
<circle cx="1482" cy="767.1" r="12" fill="#000"/>
<circle cx="1506.4" cy="767.8" r="12" fill="#000"/>
<circle cx="1482" cy="795.5" r="12" fill="#000"/>
<circle cx="1506.4" cy="813.9" r="12" fill="#000"/>
<circle cx="1567.2" cy="822.2" r="8.85" fill="#e4321b" stroke="#000" stroke-width="2.8"/>
<circle cx="1554.5" cy="860" r="8.85" fill="#e4321b" stroke="#000" stroke-width="2.8"/>
<circle cx="1560.5" cy="865.7" r="8.85" fill="#e4321b" stroke="#000" stroke-width="2.8"/>
<circle cx="1571.2" cy="868" r="8.85" fill="#e4321b" stroke="#000" stroke-width="2.8"/>
<circle cx="1579.9" cy="881.7" r="8.85" fill="#e4321b" stroke="#000" stroke-width="2.8"/>
<circle cx="1626.7" cy="797.8" r="8.85" fill="#e4321b" stroke="#000" stroke-width="2.8"/>
<circle cx="1640.7" cy="804.5" r="8.85" fill="#e4321b" stroke="#000" stroke-width="2.8"/>
<circle cx="1653.4" cy="811.2" r="8.85" fill="#e4321b" stroke="#000" stroke-width="2.8"/>
<circle cx="1640" cy="840.6" r="8.85" fill="#e4321b" stroke="#000" stroke-width="2.8"/>
<line x1="1469.7" y1="775.5" x2="1518.8" y2="775.5" stroke="#000" stroke-width="3.4" stroke-linecap="butt"/>
<line x1="1543.8" y1="859" x2="1591.6" y2="859" stroke="#000" stroke-width="3.4" stroke-linecap="butt"/>
<line x1="1615.7" y1="818.9" x2="1664.8" y2="818.9" stroke="#000" stroke-width="3.4" stroke-linecap="butt"/>
<text x="1567.2" y="1088.9" font-size="29.5" text-anchor="middle" fill="#000">KO2</text>
<text x="1637.7" y="1088.9" font-size="29.5" text-anchor="middle" fill="#000">KO1</text>
<polyline points="1531.5,1094.4 1531.5,1106.5 1671.5,1106.5 1671.5,1094.4" fill="none" stroke="#000" stroke-width="1.9" stroke-linejoin="miter"/>
<text x="1563.5" y="1140.5" font-size="25.5" text-anchor="start" fill="#000">FSP1<tspan font-size="60%" dx="1.5" dy="-7.3">KO</tspan></text>
<text font-size="28" text-anchor="end" transform="translate(1503.2 1088.1) rotate(-45)">Cas9<tspan font-size="62%" dy="-0.42em">ctl</tspan></text>
<polyline points="1492.7,715.3 1492.7,703 1571.6,703 1571.6,715.3" fill="none" stroke="#000" stroke-width="1.9" stroke-linejoin="miter"/>
<text x="1535.55" y="708.1" font-size="40" text-anchor="middle" fill="#000" font-weight="bold" letter-spacing="1.5">**</text>
<line x1="1067.8" y1="1288.7" x2="1067.8" y2="1651.8" stroke="#000" stroke-width="3.4" stroke-linecap="butt"/>
<line x1="1053.7" y1="1651.8" x2="1308.4" y2="1651.8" stroke="#000" stroke-width="3.4" stroke-linecap="butt"/>
<line x1="1052.8" y1="1651.8" x2="1067.8" y2="1651.8" stroke="#000" stroke-width="3.4" stroke-linecap="butt"/>
<text x="1048.3" y="1662.3" font-size="29.5" text-anchor="end" fill="#000">0</text>
<line x1="1052.8" y1="1591.57" x2="1067.8" y2="1591.57" stroke="#000" stroke-width="3.4" stroke-linecap="butt"/>
<text x="1048.3" y="1602.07" font-size="29.5" text-anchor="end" fill="#000">3</text>
<line x1="1052.8" y1="1531.33" x2="1067.8" y2="1531.33" stroke="#000" stroke-width="3.4" stroke-linecap="butt"/>
<text x="1048.3" y="1541.83" font-size="29.5" text-anchor="end" fill="#000">6</text>
<line x1="1052.8" y1="1471.1" x2="1067.8" y2="1471.1" stroke="#000" stroke-width="3.4" stroke-linecap="butt"/>
<text x="1048.3" y="1481.6" font-size="29.5" text-anchor="end" fill="#000">9</text>
<line x1="1052.8" y1="1410.87" x2="1067.8" y2="1410.87" stroke="#000" stroke-width="3.4" stroke-linecap="butt"/>
<text x="1048.3" y="1421.37" font-size="29.5" text-anchor="end" fill="#000">12</text>
<line x1="1052.8" y1="1350.63" x2="1067.8" y2="1350.63" stroke="#000" stroke-width="3.4" stroke-linecap="butt"/>
<text x="1048.3" y="1361.13" font-size="29.5" text-anchor="end" fill="#000">15</text>
<line x1="1052.8" y1="1290.4" x2="1067.8" y2="1290.4" stroke="#000" stroke-width="3.4" stroke-linecap="butt"/>
<text x="1048.3" y="1300.9" font-size="29.5" text-anchor="end" fill="#000">18</text>
<line x1="1117.3" y1="1651.8" x2="1117.3" y2="1665.6" stroke="#000" stroke-width="3.4" stroke-linecap="butt"/>
<line x1="1188.8" y1="1651.8" x2="1188.8" y2="1665.6" stroke="#000" stroke-width="3.4" stroke-linecap="butt"/>
<line x1="1261.3" y1="1651.8" x2="1261.3" y2="1665.6" stroke="#000" stroke-width="3.4" stroke-linecap="butt"/>
<text x="1202.7" y="1245.9" font-size="28.5" text-anchor="middle" fill="#000">18:0 LPE</text>
<text x="1003.5" y="1465" font-size="28.9" text-anchor="middle" fill="#000" transform="rotate(-90 1003.5 1465)">Levels (AU)</text>
<circle cx="1104.7" cy="1527.6" r="12" fill="#000"/>
<circle cx="1111.3" cy="1539.1" r="12" fill="#000"/>
<circle cx="1117.9" cy="1547.4" r="12" fill="#000"/>
<circle cx="1124.5" cy="1548.4" r="12" fill="#000"/>
<circle cx="1130.4" cy="1549" r="12" fill="#000"/>
<circle cx="1189.4" cy="1367.8" r="8.85" fill="#e4321b" stroke="#000" stroke-width="2.8"/>
<circle cx="1189.4" cy="1398.1" r="8.85" fill="#e4321b" stroke="#000" stroke-width="2.8"/>
<circle cx="1189.4" cy="1448.5" r="8.85" fill="#e4321b" stroke="#000" stroke-width="2.8"/>
<circle cx="1176.6" cy="1479.8" r="8.85" fill="#e4321b" stroke="#000" stroke-width="2.8"/>
<circle cx="1201.3" cy="1503.9" r="8.85" fill="#e4321b" stroke="#000" stroke-width="2.8"/>
<circle cx="1249.7" cy="1446.2" r="8.85" fill="#e4321b" stroke="#000" stroke-width="2.8"/>
<circle cx="1273.8" cy="1460.7" r="8.85" fill="#e4321b" stroke="#000" stroke-width="2.8"/>
<circle cx="1249.7" cy="1501.3" r="8.85" fill="#e4321b" stroke="#000" stroke-width="2.8"/>
<circle cx="1273.8" cy="1503.9" r="8.85" fill="#e4321b" stroke="#000" stroke-width="2.8"/>
<line x1="1093.2" y1="1542.4" x2="1135" y2="1542.4" stroke="#000" stroke-width="3.4" stroke-linecap="butt"/>
<line x1="1165.7" y1="1439.6" x2="1213.5" y2="1439.6" stroke="#000" stroke-width="3.4" stroke-linecap="butt"/>
<line x1="1237.5" y1="1478.2" x2="1285.3" y2="1478.2" stroke="#000" stroke-width="3.4" stroke-linecap="butt"/>
<text x="1182.8" y="1695.5" font-size="29.5" text-anchor="middle" fill="#000">KO2</text>
<text x="1263.2" y="1695.5" font-size="29.5" text-anchor="middle" fill="#000">KO1</text>
<polyline points="1153.5,1705.1 1153.5,1717.2 1293.2,1717.2 1293.2,1705.1" fill="none" stroke="#000" stroke-width="1.9" stroke-linejoin="miter"/>
<text x="1179.5" y="1750.5" font-size="25.5" text-anchor="start" fill="#000">FSP1<tspan font-size="60%" dx="1.5" dy="-7.3">KO</tspan></text>
<text font-size="28" text-anchor="end" transform="translate(1126.8 1697.8) rotate(-45)">Cas9<tspan font-size="62%" dy="-0.42em">ctl</tspan></text>
<polyline points="1109.7,1313.4 1109.7,1301.3 1257,1301.3 1257,1313.4" fill="none" stroke="#000" stroke-width="1.9" stroke-linejoin="miter"/>
<text x="1181.35" y="1306.5" font-size="40" text-anchor="middle" fill="#000" font-weight="bold" letter-spacing="1.5">**</text>
<polyline points="1109.7,1344.7 1109.7,1332.2 1188.8,1332.2 1188.8,1344.7" fill="none" stroke="#000" stroke-width="1.9" stroke-linejoin="miter"/>
<text x="1150.35" y="1337.8" font-size="40" text-anchor="middle" fill="#000" font-weight="bold" letter-spacing="1.5">**</text>
<line x1="1450.1" y1="1288.7" x2="1450.1" y2="1651.8" stroke="#000" stroke-width="3.4" stroke-linecap="butt"/>
<line x1="1435.3" y1="1651.8" x2="1690.7" y2="1651.8" stroke="#000" stroke-width="3.4" stroke-linecap="butt"/>
<line x1="1435.1" y1="1651.8" x2="1450.1" y2="1651.8" stroke="#000" stroke-width="3.4" stroke-linecap="butt"/>
<text x="1430.6" y="1662.3" font-size="29.5" text-anchor="end" fill="#000">0</text>
<line x1="1435.1" y1="1579.52" x2="1450.1" y2="1579.52" stroke="#000" stroke-width="3.4" stroke-linecap="butt"/>
<text x="1430.6" y="1590.02" font-size="29.5" text-anchor="end" fill="#000">1</text>
<line x1="1435.1" y1="1507.24" x2="1450.1" y2="1507.24" stroke="#000" stroke-width="3.4" stroke-linecap="butt"/>
<text x="1430.6" y="1517.74" font-size="29.5" text-anchor="end" fill="#000">2</text>
<line x1="1435.1" y1="1434.96" x2="1450.1" y2="1434.96" stroke="#000" stroke-width="3.4" stroke-linecap="butt"/>
<text x="1430.6" y="1445.46" font-size="29.5" text-anchor="end" fill="#000">3</text>
<line x1="1435.1" y1="1362.68" x2="1450.1" y2="1362.68" stroke="#000" stroke-width="3.4" stroke-linecap="butt"/>
<text x="1430.6" y="1373.18" font-size="29.5" text-anchor="end" fill="#000">4</text>
<line x1="1435.1" y1="1290.4" x2="1450.1" y2="1290.4" stroke="#000" stroke-width="3.4" stroke-linecap="butt"/>
<text x="1430.6" y="1300.9" font-size="29.5" text-anchor="end" fill="#000">5</text>
<line x1="1497.9" y1="1651.8" x2="1497.9" y2="1665.6" stroke="#000" stroke-width="3.4" stroke-linecap="butt"/>
<line x1="1570.4" y1="1651.8" x2="1570.4" y2="1665.6" stroke="#000" stroke-width="3.4" stroke-linecap="butt"/>
<line x1="1642.2" y1="1651.8" x2="1642.2" y2="1665.6" stroke="#000" stroke-width="3.4" stroke-linecap="butt"/>
<text x="1562.7" y="1245.9" font-size="28.5" text-anchor="middle" fill="#000">16:0 LPE</text>
<text x="1372" y="1465" font-size="28.9" text-anchor="middle" fill="#000" transform="rotate(-90 1372 1465)">Levels (AU)</text>
<circle cx="1484.7" cy="1527.6" r="12" fill="#000"/>
<circle cx="1497.9" cy="1530.9" r="12" fill="#000"/>
<circle cx="1512.8" cy="1539.1" r="12" fill="#000"/>
<circle cx="1491.3" cy="1549" r="12" fill="#000"/>
<circle cx="1505.2" cy="1566.2" r="12" fill="#000"/>
<circle cx="1571.1" cy="1353" r="8.85" fill="#e4321b" stroke="#000" stroke-width="2.8"/>
<circle cx="1571.1" cy="1385.9" r="8.85" fill="#e4321b" stroke="#000" stroke-width="2.8"/>
<circle cx="1570.4" cy="1475.9" r="8.85" fill="#e4321b" stroke="#000" stroke-width="2.8"/>
<circle cx="1557.9" cy="1485.8" r="8.85" fill="#e4321b" stroke="#000" stroke-width="2.8"/>
<circle cx="1582.6" cy="1512.8" r="8.85" fill="#e4321b" stroke="#000" stroke-width="2.8"/>
<circle cx="1642.9" cy="1478.2" r="8.85" fill="#e4321b" stroke="#000" stroke-width="2.8"/>
<circle cx="1630.7" cy="1497.3" r="8.85" fill="#e4321b" stroke="#000" stroke-width="2.8"/>
<circle cx="1655.1" cy="1507.2" r="8.85" fill="#e4321b" stroke="#000" stroke-width="2.8"/>
<circle cx="1642.9" cy="1541.4" r="8.85" fill="#e4321b" stroke="#000" stroke-width="2.8"/>
<line x1="1474.2" y1="1542.4" x2="1510" y2="1542.4" stroke="#000" stroke-width="3.4" stroke-linecap="butt"/>
<line x1="1546.7" y1="1442.6" x2="1594.1" y2="1442.6" stroke="#000" stroke-width="3.4" stroke-linecap="butt"/>
<line x1="1619.2" y1="1506.2" x2="1666.6" y2="1506.2" stroke="#000" stroke-width="3.4" stroke-linecap="butt"/>
<text x="1566.6" y="1696" font-size="29.5" text-anchor="middle" fill="#000">KO2</text>
<text x="1640.4" y="1696" font-size="29.5" text-anchor="middle" fill="#000">KO1</text>
<polyline points="1537.5,1705.1 1537.5,1717.2 1677.5,1717.2 1677.5,1705.1" fill="none" stroke="#000" stroke-width="1.9" stroke-linejoin="miter"/>
<text x="1563.5" y="1750.5" font-size="25.5" text-anchor="start" fill="#000">FSP1<tspan font-size="60%" dx="1.5" dy="-7.3">KO</tspan></text>
<text font-size="28" text-anchor="end" transform="translate(1507.4 1697.8) rotate(-45)">Cas9<tspan font-size="62%" dy="-0.42em">ctl</tspan></text>
<polyline points="1492,1298.6 1492,1286.4 1639.6,1286.4 1639.6,1298.6" fill="none" stroke="#000" stroke-width="1.9" stroke-linejoin="miter"/>
<text x="1569.75" y="1290.3" font-size="36" text-anchor="middle" fill="#000" font-weight="bold">*</text>
<polyline points="1492,1330 1492,1318.4 1571.4,1318.4 1571.4,1330" fill="none" stroke="#000" stroke-width="1.9" stroke-linejoin="miter"/>
<text x="1533.5" y="1321.6" font-size="36" text-anchor="middle" fill="#000" font-weight="bold">*</text>
</svg></body></html>
